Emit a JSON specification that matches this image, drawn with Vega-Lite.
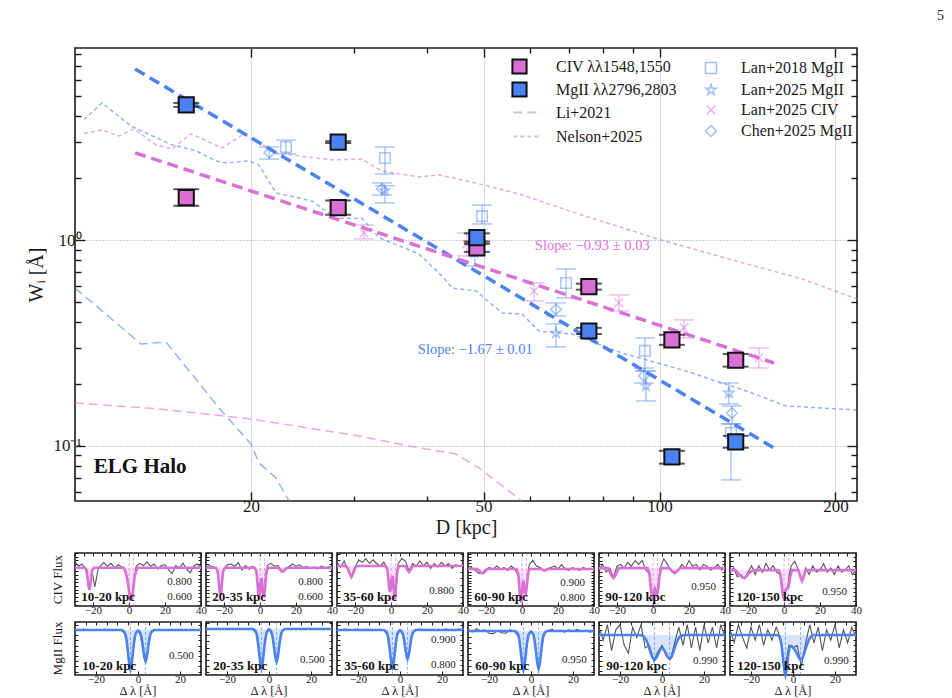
{
"$schema":"https://vega.github.io/schema/vega-lite/v6.json",
"background":"white",
"padding":{"left":26,"top":8,"right":5,"bottom":0},
"title":{"text":"5","anchor":"end","frame":"group","fontSize":14,"fontWeight":"normal","font":"Liberation Serif","color":"#222222","offset":22,"dx":869},
"config":{
 "font":"Liberation Serif",
 "view":{"stroke":"#1a1a1a","strokeWidth":1.6},
 "axis":{"domain":false,"grid":false,"labelFont":"Liberation Serif","titleFont":"Liberation Serif","labelColor":"#1a1a1a","titleColor":"#1a1a1a","tickColor":"#1a1a1a","titleFontWeight":"normal","labelOverlap":false,"labelBound":false,"labelFlush":false},
 "legend":{"labelFont":"Liberation Serif","labelFontSize":16,"labelColor":"#1a1a1a","padding":0,"rowPadding":5.6},
 "header":{"labelFont":"Liberation Serif","labelColor":"#1a1a1a","labelLimit":0}
},
"datasets":{
 "main":[
  {"ion":"CIV","lab":"CIV λλ1548,1550","D":15.5,"W":1.61,"lo":1.47,"hi":1.77},
  {"ion":"CIV","lab":"CIV λλ1548,1550","D":28.2,"W":1.44,"lo":1.33,"hi":1.56},
  {"ion":"CIV","lab":"CIV λλ1548,1550","D":48.7,"W":0.918,"lo":0.878,"hi":0.96},
  {"ion":"CIV","lab":"CIV λλ1548,1550","D":75.7,"W":0.595,"lo":0.575,"hi":0.615},
  {"ion":"CIV","lab":"CIV λλ1548,1550","D":105,"W":0.328,"lo":0.31,"hi":0.347},
  {"ion":"CIV","lab":"CIV λλ1548,1550","D":135,"W":0.261,"lo":0.243,"hi":0.28},
  {"ion":"MgII","lab":"MgII λλ2796,2803","D":15.5,"W":4.55,"lo":4.45,"hi":4.65},
  {"ion":"MgII","lab":"MgII λλ2796,2803","D":28.2,"W":3.0,"lo":2.97,"hi":3.03},
  {"ion":"MgII","lab":"MgII λλ2796,2803","D":48.7,"W":1.03,"lo":0.985,"hi":1.08},
  {"ion":"MgII","lab":"MgII λλ2796,2803","D":75.7,"W":0.362,"lo":0.35,"hi":0.375},
  {"ion":"MgII","lab":"MgII λλ2796,2803","D":105,"W":0.0885,"lo":0.082,"hi":0.0947},
  {"ion":"MgII","lab":"MgII λλ2796,2803","D":135,"W":0.1046,"lo":0.098,"hi":0.112}
 ],
 "lit":[
  {"src":"Lan+2018 MgII","D":22.96,"W":2.84,"lo":2.63,"hi":3.07},
  {"src":"Lan+2018 MgII","D":33.9,"W":2.51,"lo":2.1,"hi":2.84},
  {"src":"Lan+2018 MgII","D":49.7,"W":1.31,"lo":1.2,"hi":1.48},
  {"src":"Lan+2018 MgII","D":69.2,"W":0.62,"lo":0.524,"hi":0.725},
  {"src":"Lan+2018 MgII","D":94.4,"W":0.29,"lo":0.2315,"hi":0.335},
  {"src":"Lan+2018 MgII","D":132.5,"W":0.1157,"lo":0.0684,"hi":0.128},
  {"src":"Lan+2025 MgII","D":33.9,"W":1.74,"lo":1.52,"hi":1.84},
  {"src":"Lan+2025 MgII","D":48.3,"W":0.868,"lo":0.75,"hi":0.99},
  {"src":"Lan+2025 MgII","D":66.5,"W":0.354,"lo":0.303,"hi":0.392},
  {"src":"Lan+2025 MgII","D":94.8,"W":0.1957,"lo":0.1655,"hi":0.2315},
  {"src":"Lan+2025 MgII","D":131.4,"W":0.181,"lo":0.16,"hi":0.2024},
  {"src":"Lan+2025 CIV","D":31.2,"W":1.085,"lo":1.015,"hi":1.187},
  {"src":"Lan+2025 CIV","D":46.8,"W":0.959,"lo":0.839,"hi":1.085},
  {"src":"Lan+2025 CIV","D":61.0,"W":0.567,"lo":0.507,"hi":0.62},
  {"src":"Lan+2025 CIV","D":85.2,"W":0.496,"lo":0.453,"hi":0.542},
  {"src":"Lan+2025 CIV","D":110.1,"W":0.375,"lo":0.335,"hi":0.41},
  {"src":"Lan+2025 CIV","D":147.9,"W":0.268,"lo":0.2394,"hi":0.2995},
  {"src":"Chen+2025 MgII","D":21.5,"W":2.66,"lo":2.48,"hi":2.84},
  {"src":"Chen+2025 MgII","D":33.5,"W":1.776,"lo":1.66,"hi":1.9},
  {"src":"Chen+2025 MgII","D":66.5,"W":0.461,"lo":0.4285,"hi":0.496},
  {"src":"Chen+2025 MgII","D":94.0,"W":0.219,"lo":0.2024,"hi":0.239},
  {"src":"Chen+2025 MgII","D":133.0,"W":0.1446,"lo":0.128,"hi":0.1564}
 ],
 "models":[
  {"model":"Nelson+2025","ion":"CIV","D":10.36,"W":3.3},{"model":"Nelson+2025","ion":"CIV","D":11.12,"W":3.44},{"model":"Nelson+2025","ion":"CIV","D":11.89,"W":3.21},{"model":"Nelson+2025","ion":"CIV","D":12.62,"W":3.48},{"model":"Nelson+2025","ion":"CIV","D":13.75,"W":2.91},{"model":"Nelson+2025","ion":"CIV","D":14.65,"W":2.78},{"model":"Nelson+2025","ion":"CIV","D":15.79,"W":3.29},{"model":"Nelson+2025","ion":"CIV","D":17.84,"W":2.81},{"model":"Nelson+2025","ion":"CIV","D":19.46,"W":3.29},{"model":"Nelson+2025","ion":"CIV","D":22.07,"W":2.66},{"model":"Nelson+2025","ion":"CIV","D":24.84,"W":2.54},{"model":"Nelson+2025","ion":"CIV","D":27.52,"W":2.46},{"model":"Nelson+2025","ion":"CIV","D":30.97,"W":2.48},{"model":"Nelson+2025","ion":"CIV","D":33.5,"W":2.17},{"model":"Nelson+2025","ion":"CIV","D":38.76,"W":2.03},{"model":"Nelson+2025","ion":"CIV","D":41.94,"W":2.08},{"model":"Nelson+2025","ion":"CIV","D":49.1,"W":1.88},{"model":"Nelson+2025","ion":"CIV","D":57.47,"W":1.68},{"model":"Nelson+2025","ion":"CIV","D":72.79,"W":1.34},{"model":"Nelson+2025","ion":"CIV","D":99.8,"W":1.01},{"model":"Nelson+2025","ion":"CIV","D":135.1,"W":0.793},{"model":"Nelson+2025","ion":"CIV","D":175.2,"W":0.649},{"model":"Nelson+2025","ion":"CIV","D":217.7,"W":0.518},
  {"model":"Nelson+2025","ion":"MgII","D":10.36,"W":3.85},{"model":"Nelson+2025","ion":"MgII","D":11.12,"W":4.65},{"model":"Nelson+2025","ion":"MgII","D":12.47,"W":3.59},{"model":"Nelson+2025","ion":"MgII","D":13.23,"W":3.32},{"model":"Nelson+2025","ion":"MgII","D":14.65,"W":2.91},{"model":"Nelson+2025","ion":"MgII","D":16.11,"W":2.72},{"model":"Nelson+2025","ion":"MgII","D":17.42,"W":2.43},{"model":"Nelson+2025","ion":"MgII","D":18.13,"W":2.38},{"model":"Nelson+2025","ion":"MgII","D":19.85,"W":2.43},{"model":"Nelson+2025","ion":"MgII","D":20.64,"W":2.32},{"model":"Nelson+2025","ion":"MgII","D":22.07,"W":1.7},{"model":"Nelson+2025","ion":"MgII","D":25.44,"W":1.55},{"model":"Nelson+2025","ion":"MgII","D":27.96,"W":1.28},{"model":"Nelson+2025","ion":"MgII","D":30.97,"W":1.28},{"model":"Nelson+2025","ion":"MgII","D":33.11,"W":1.03},{"model":"Nelson+2025","ion":"MgII","D":38.76,"W":0.858},{"model":"Nelson+2025","ion":"MgII","D":42.44,"W":0.671},{"model":"Nelson+2025","ion":"MgII","D":44.14,"W":0.586},{"model":"Nelson+2025","ion":"MgII","D":48.52,"W":0.567},{"model":"Nelson+2025","ion":"MgII","D":53.76,"W":0.443},{"model":"Nelson+2025","ion":"MgII","D":58.16,"W":0.438},{"model":"Nelson+2025","ion":"MgII","D":62.2,"W":0.362},{"model":"Nelson+2025","ion":"MgII","D":70.83,"W":0.35},{"model":"Nelson+2025","ion":"MgII","D":86.23,"W":0.283},{"model":"Nelson+2025","ion":"MgII","D":110.98,"W":0.2315},{"model":"Nelson+2025","ion":"MgII","D":143.9,"W":0.181},{"model":"Nelson+2025","ion":"MgII","D":164.5,"W":0.1564},{"model":"Nelson+2025","ion":"MgII","D":217.7,"W":0.1496},
  {"model":"Li+2021","ion":"MgII","D":10.0,"W":0.586},{"model":"Li+2021","ion":"MgII","D":12.97,"W":0.313},{"model":"Li+2021","ion":"MgII","D":14.31,"W":0.32},{"model":"Li+2021","ion":"MgII","D":17.63,"W":0.153},{"model":"Li+2021","ion":"MgII","D":20.0,"W":0.1022},{"model":"Li+2021","ion":"MgII","D":20.64,"W":0.0827},{"model":"Li+2021","ion":"MgII","D":22.07,"W":0.0699},{"model":"Li+2021","ion":"MgII","D":23.23,"W":0.054},{"model":"Li+2021","ion":"MgII","D":24.16,"W":0.0457},
  {"model":"Li+2021","ion":"CIV","D":10.0,"W":0.1618},{"model":"Li+2021","ion":"CIV","D":13.92,"W":0.1513},{"model":"Li+2021","ion":"CIV","D":20.0,"W":0.1353},{"model":"Li+2021","ion":"CIV","D":30.61,"W":0.1118},{"model":"Li+2021","ion":"CIV","D":37.26,"W":0.1},{"model":"Li+2021","ion":"CIV","D":44.84,"W":0.0914},{"model":"Li+2021","ion":"CIV","D":49.1,"W":0.0782},{"model":"Li+2021","ion":"CIV","D":58.16,"W":0.054},{"model":"Li+2021","ion":"CIV","D":62.2,"W":0.0467}
 ],
 "fits":[
  {"ion":"MgII","D":12.67,"W":6.8},{"ion":"MgII","D":157,"W":0.0978},
  {"ion":"CIV","D":12.67,"W":2.66},{"ion":"CIV","D":157,"W":0.253}
 ],
 "notes":[
  {"kind":"slope","ion":"CIV","D":61.2,"W":0.938,"t":"Slope: −0.93 ± 0.03"},
  {"kind":"slope","ion":"MgII","D":38.6,"W":0.293,"t":"Slope: −1.67 ± 0.01"},
  {"kind":"label","ion":"none","D":10.77,"W":0.0792,"t":"ELG Halo"}
 ],
 "spec":[
  {"ion":"CIV","bin":"10-20 kpc","k":"dom","x":-30,"y":0.48,"y2":1.2},
  {"ion":"CIV","bin":"10-20 kpc","k":"ctr","x":0,"y":0.48,"y2":1.2},
  {"ion":"CIV","bin":"10-20 kpc","k":"ctr","x":2.57,"y":0.48,"y2":1.2},
  {"ion":"CIV","bin":"10-20 kpc","k":"lab","x":-26.5,"y":0.602,"t":"10-20 kpc"},
  {"ion":"CIV","bin":"10-20 kpc","k":"tl","x":35,"y":0.8,"t":"0.800"},
  {"ion":"CIV","bin":"10-20 kpc","k":"tl","x":35,"y":0.6,"t":"0.600"},
  {"ion":"CIV","bin":"10-20 kpc","k":"m","x":-30,"y":1,"c":1},{"ion":"CIV","bin":"10-20 kpc","k":"m","x":-24.5,"y":1,"c":1},{"ion":"CIV","bin":"10-20 kpc","k":"m","x":-23.5,"y":0.96,"c":1},{"ion":"CIV","bin":"10-20 kpc","k":"m","x":-23,"y":0.86,"c":1},{"ion":"CIV","bin":"10-20 kpc","k":"m","x":-22.5,"y":0.75,"c":1},{"ion":"CIV","bin":"10-20 kpc","k":"m","x":-22,"y":0.7,"c":1},{"ion":"CIV","bin":"10-20 kpc","k":"m","x":-21.5,"y":0.75,"c":1},{"ion":"CIV","bin":"10-20 kpc","k":"m","x":-21,"y":0.86,"c":1},{"ion":"CIV","bin":"10-20 kpc","k":"m","x":-20.5,"y":0.96,"c":1},{"ion":"CIV","bin":"10-20 kpc","k":"m","x":-19.5,"y":1,"c":1},{"ion":"CIV","bin":"10-20 kpc","k":"m","x":-3,"y":1,"c":1},{"ion":"CIV","bin":"10-20 kpc","k":"m","x":-2,"y":0.95,"c":1},{"ion":"CIV","bin":"10-20 kpc","k":"m","x":-1,"y":0.85,"c":1},{"ion":"CIV","bin":"10-20 kpc","k":"m","x":0,"y":0.68,"c":1},{"ion":"CIV","bin":"10-20 kpc","k":"m","x":0.5,"y":0.6,"c":1},{"ion":"CIV","bin":"10-20 kpc","k":"m","x":1,"y":0.57,"c":1},{"ion":"CIV","bin":"10-20 kpc","k":"m","x":1.5,"y":0.58,"c":1},{"ion":"CIV","bin":"10-20 kpc","k":"m","x":2,"y":0.64,"c":1},{"ion":"CIV","bin":"10-20 kpc","k":"m","x":2.5,"y":0.74,"c":1},{"ion":"CIV","bin":"10-20 kpc","k":"m","x":3,"y":0.86,"c":1},{"ion":"CIV","bin":"10-20 kpc","k":"m","x":4,"y":0.96,"c":1},{"ion":"CIV","bin":"10-20 kpc","k":"m","x":5,"y":1,"c":1},{"ion":"CIV","bin":"10-20 kpc","k":"m","x":40,"y":1,"c":1},
  {"ion":"CIV","bin":"10-20 kpc","k":"d","x":-30,"y":1.08},{"ion":"CIV","bin":"10-20 kpc","k":"d","x":-28,"y":1.02},{"ion":"CIV","bin":"10-20 kpc","k":"d","x":-26,"y":1.05},{"ion":"CIV","bin":"10-20 kpc","k":"d","x":-24,"y":0.97},{"ion":"CIV","bin":"10-20 kpc","k":"d","x":-22,"y":0.72},{"ion":"CIV","bin":"10-20 kpc","k":"d","x":-20.5,"y":0.95},{"ion":"CIV","bin":"10-20 kpc","k":"d","x":-19,"y":0.74},{"ion":"CIV","bin":"10-20 kpc","k":"d","x":-17,"y":1.0},{"ion":"CIV","bin":"10-20 kpc","k":"d","x":-14,"y":1.07},{"ion":"CIV","bin":"10-20 kpc","k":"d","x":-12,"y":1.02},{"ion":"CIV","bin":"10-20 kpc","k":"d","x":-10,"y":1.06},{"ion":"CIV","bin":"10-20 kpc","k":"d","x":-8,"y":1.0},{"ion":"CIV","bin":"10-20 kpc","k":"d","x":-6,"y":1.04},{"ion":"CIV","bin":"10-20 kpc","k":"d","x":-4,"y":1.01},{"ion":"CIV","bin":"10-20 kpc","k":"d","x":-2,"y":0.97},{"ion":"CIV","bin":"10-20 kpc","k":"d","x":0,"y":0.7},{"ion":"CIV","bin":"10-20 kpc","k":"d","x":1,"y":0.58},{"ion":"CIV","bin":"10-20 kpc","k":"d","x":2,"y":0.66},{"ion":"CIV","bin":"10-20 kpc","k":"d","x":4,"y":1.02},{"ion":"CIV","bin":"10-20 kpc","k":"d","x":6,"y":1.06},{"ion":"CIV","bin":"10-20 kpc","k":"d","x":8,"y":1.03},{"ion":"CIV","bin":"10-20 kpc","k":"d","x":10,"y":1.08},{"ion":"CIV","bin":"10-20 kpc","k":"d","x":12,"y":1.02},{"ion":"CIV","bin":"10-20 kpc","k":"d","x":14,"y":1.05},{"ion":"CIV","bin":"10-20 kpc","k":"d","x":16,"y":0.98},{"ion":"CIV","bin":"10-20 kpc","k":"d","x":18,"y":1.03},{"ion":"CIV","bin":"10-20 kpc","k":"d","x":20,"y":1.04},{"ion":"CIV","bin":"10-20 kpc","k":"d","x":22,"y":0.97},{"ion":"CIV","bin":"10-20 kpc","k":"d","x":24,"y":0.92},{"ion":"CIV","bin":"10-20 kpc","k":"d","x":26,"y":1.03},{"ion":"CIV","bin":"10-20 kpc","k":"d","x":28,"y":1.0},{"ion":"CIV","bin":"10-20 kpc","k":"d","x":30,"y":1.06},{"ion":"CIV","bin":"10-20 kpc","k":"d","x":32,"y":0.98},{"ion":"CIV","bin":"10-20 kpc","k":"d","x":34,"y":0.93},{"ion":"CIV","bin":"10-20 kpc","k":"d","x":36,"y":1.02},{"ion":"CIV","bin":"10-20 kpc","k":"d","x":38,"y":1.05},{"ion":"CIV","bin":"10-20 kpc","k":"d","x":40,"y":1.0},

  {"ion":"CIV","bin":"20-35 kpc","k":"dom","x":-30,"y":0.48,"y2":1.2},
  {"ion":"CIV","bin":"20-35 kpc","k":"ctr","x":0,"y":0.48,"y2":1.2},
  {"ion":"CIV","bin":"20-35 kpc","k":"ctr","x":2.57,"y":0.48,"y2":1.2},
  {"ion":"CIV","bin":"20-35 kpc","k":"lab","x":-26.5,"y":0.602,"t":"20-35 kpc"},
  {"ion":"CIV","bin":"20-35 kpc","k":"tl","x":35,"y":0.8,"t":"0.800"},
  {"ion":"CIV","bin":"20-35 kpc","k":"tl","x":35,"y":0.6,"t":"0.600"},
  {"ion":"CIV","bin":"20-35 kpc","k":"m","x":-30,"y":1,"c":1},{"ion":"CIV","bin":"20-35 kpc","k":"m","x":-24.5,"y":1,"c":1},{"ion":"CIV","bin":"20-35 kpc","k":"m","x":-23.5,"y":0.95,"c":1},{"ion":"CIV","bin":"20-35 kpc","k":"m","x":-23,"y":0.83,"c":1},{"ion":"CIV","bin":"20-35 kpc","k":"m","x":-22.5,"y":0.69,"c":1},{"ion":"CIV","bin":"20-35 kpc","k":"m","x":-22,"y":0.63,"c":1},{"ion":"CIV","bin":"20-35 kpc","k":"m","x":-21.5,"y":0.69,"c":1},{"ion":"CIV","bin":"20-35 kpc","k":"m","x":-21,"y":0.83,"c":1},{"ion":"CIV","bin":"20-35 kpc","k":"m","x":-20.5,"y":0.95,"c":1},{"ion":"CIV","bin":"20-35 kpc","k":"m","x":-19.5,"y":1,"c":1},{"ion":"CIV","bin":"20-35 kpc","k":"m","x":-3,"y":1,"c":1},{"ion":"CIV","bin":"20-35 kpc","k":"m","x":-2,"y":0.95,"c":1},{"ion":"CIV","bin":"20-35 kpc","k":"m","x":-1.5,"y":0.82,"c":1},{"ion":"CIV","bin":"20-35 kpc","k":"m","x":-1,"y":0.66,"c":1},{"ion":"CIV","bin":"20-35 kpc","k":"m","x":-0.5,"y":0.6,"c":1},{"ion":"CIV","bin":"20-35 kpc","k":"m","x":0,"y":0.66,"c":1},{"ion":"CIV","bin":"20-35 kpc","k":"m","x":0.5,"y":0.82,"c":1},{"ion":"CIV","bin":"20-35 kpc","k":"m","x":0.8,"y":0.86,"c":1},{"ion":"CIV","bin":"20-35 kpc","k":"m","x":1.1,"y":0.82,"c":1},{"ion":"CIV","bin":"20-35 kpc","k":"m","x":1.6,"y":0.66,"c":1},{"ion":"CIV","bin":"20-35 kpc","k":"m","x":2.1,"y":0.6,"c":1},{"ion":"CIV","bin":"20-35 kpc","k":"m","x":2.6,"y":0.66,"c":1},{"ion":"CIV","bin":"20-35 kpc","k":"m","x":3.1,"y":0.82,"c":1},{"ion":"CIV","bin":"20-35 kpc","k":"m","x":3.6,"y":0.95,"c":1},{"ion":"CIV","bin":"20-35 kpc","k":"m","x":4.5,"y":1,"c":1},{"ion":"CIV","bin":"20-35 kpc","k":"m","x":10,"y":1,"c":1},{"ion":"CIV","bin":"20-35 kpc","k":"m","x":11,"y":0.98,"c":1},{"ion":"CIV","bin":"20-35 kpc","k":"m","x":12,"y":0.95,"c":1},{"ion":"CIV","bin":"20-35 kpc","k":"m","x":13,"y":0.95,"c":1},{"ion":"CIV","bin":"20-35 kpc","k":"m","x":14,"y":0.98,"c":1},{"ion":"CIV","bin":"20-35 kpc","k":"m","x":15,"y":1,"c":1},{"ion":"CIV","bin":"20-35 kpc","k":"m","x":40,"y":1,"c":1},
  {"ion":"CIV","bin":"20-35 kpc","k":"d","x":-30,"y":1.0},{"ion":"CIV","bin":"20-35 kpc","k":"d","x":-28,"y":1.03},{"ion":"CIV","bin":"20-35 kpc","k":"d","x":-26,"y":1.01},{"ion":"CIV","bin":"20-35 kpc","k":"d","x":-24,"y":0.98},{"ion":"CIV","bin":"20-35 kpc","k":"d","x":-22,"y":0.66},{"ion":"CIV","bin":"20-35 kpc","k":"d","x":-20,"y":0.99},{"ion":"CIV","bin":"20-35 kpc","k":"d","x":-18,"y":1.04},{"ion":"CIV","bin":"20-35 kpc","k":"d","x":-16,"y":1.05},{"ion":"CIV","bin":"20-35 kpc","k":"d","x":-14,"y":1.02},{"ion":"CIV","bin":"20-35 kpc","k":"d","x":-12,"y":1.07},{"ion":"CIV","bin":"20-35 kpc","k":"d","x":-10,"y":0.97},{"ion":"CIV","bin":"20-35 kpc","k":"d","x":-8,"y":1.03},{"ion":"CIV","bin":"20-35 kpc","k":"d","x":-6,"y":0.98},{"ion":"CIV","bin":"20-35 kpc","k":"d","x":-4,"y":1.02},{"ion":"CIV","bin":"20-35 kpc","k":"d","x":-2,"y":0.95},{"ion":"CIV","bin":"20-35 kpc","k":"d","x":-1,"y":0.64},{"ion":"CIV","bin":"20-35 kpc","k":"d","x":0.5,"y":0.85},{"ion":"CIV","bin":"20-35 kpc","k":"d","x":2,"y":0.62},{"ion":"CIV","bin":"20-35 kpc","k":"d","x":3,"y":0.85},{"ion":"CIV","bin":"20-35 kpc","k":"d","x":4,"y":1.03},{"ion":"CIV","bin":"20-35 kpc","k":"d","x":6,"y":1.06},{"ion":"CIV","bin":"20-35 kpc","k":"d","x":8,"y":1.02},{"ion":"CIV","bin":"20-35 kpc","k":"d","x":10,"y":1.03},{"ion":"CIV","bin":"20-35 kpc","k":"d","x":12,"y":0.96},{"ion":"CIV","bin":"20-35 kpc","k":"d","x":14,"y":0.97},{"ion":"CIV","bin":"20-35 kpc","k":"d","x":16,"y":1.01},{"ion":"CIV","bin":"20-35 kpc","k":"d","x":18,"y":1.05},{"ion":"CIV","bin":"20-35 kpc","k":"d","x":20,"y":1.02},{"ion":"CIV","bin":"20-35 kpc","k":"d","x":22,"y":1.04},{"ion":"CIV","bin":"20-35 kpc","k":"d","x":24,"y":1.0},{"ion":"CIV","bin":"20-35 kpc","k":"d","x":26,"y":1.02},{"ion":"CIV","bin":"20-35 kpc","k":"d","x":28,"y":0.99},{"ion":"CIV","bin":"20-35 kpc","k":"d","x":30,"y":1.01},{"ion":"CIV","bin":"20-35 kpc","k":"d","x":32,"y":0.98},{"ion":"CIV","bin":"20-35 kpc","k":"d","x":34,"y":1.02},{"ion":"CIV","bin":"20-35 kpc","k":"d","x":36,"y":1.0},{"ion":"CIV","bin":"20-35 kpc","k":"d","x":38,"y":1.01},{"ion":"CIV","bin":"20-35 kpc","k":"d","x":40,"y":1.02},

  {"ion":"CIV","bin":"35-60 kpc","k":"dom","x":-30,"y":0.676,"y2":1.105},
  {"ion":"CIV","bin":"35-60 kpc","k":"ctr","x":0,"y":0.676,"y2":1.105},
  {"ion":"CIV","bin":"35-60 kpc","k":"ctr","x":2.57,"y":0.676,"y2":1.105},
  {"ion":"CIV","bin":"35-60 kpc","k":"lab","x":-26.5,"y":0.749,"t":"35-60 kpc"},
  {"ion":"CIV","bin":"35-60 kpc","k":"tl","x":35,"y":0.8,"t":"0.800"},
  {"ion":"CIV","bin":"35-60 kpc","k":"m","x":-30,"y":1,"c":1},{"ion":"CIV","bin":"35-60 kpc","k":"m","x":-25,"y":1,"c":1},{"ion":"CIV","bin":"35-60 kpc","k":"m","x":-24,"y":0.98,"c":1},{"ion":"CIV","bin":"35-60 kpc","k":"m","x":-23,"y":0.94,"c":1},{"ion":"CIV","bin":"35-60 kpc","k":"m","x":-22,"y":0.91,"c":1},{"ion":"CIV","bin":"35-60 kpc","k":"m","x":-21,"y":0.94,"c":1},{"ion":"CIV","bin":"35-60 kpc","k":"m","x":-20,"y":0.98,"c":1},{"ion":"CIV","bin":"35-60 kpc","k":"m","x":-19,"y":1,"c":1},{"ion":"CIV","bin":"35-60 kpc","k":"m","x":-3,"y":1,"c":1},{"ion":"CIV","bin":"35-60 kpc","k":"m","x":-2,"y":0.97,"c":1},{"ion":"CIV","bin":"35-60 kpc","k":"m","x":-1.5,"y":0.9,"c":1},{"ion":"CIV","bin":"35-60 kpc","k":"m","x":-1,"y":0.82,"c":1},{"ion":"CIV","bin":"35-60 kpc","k":"m","x":-0.5,"y":0.79,"c":1},{"ion":"CIV","bin":"35-60 kpc","k":"m","x":0,"y":0.83,"c":1},{"ion":"CIV","bin":"35-60 kpc","k":"m","x":0.5,"y":0.9,"c":1},{"ion":"CIV","bin":"35-60 kpc","k":"m","x":0.8,"y":0.92,"c":1},{"ion":"CIV","bin":"35-60 kpc","k":"m","x":1.2,"y":0.87,"c":1},{"ion":"CIV","bin":"35-60 kpc","k":"m","x":1.7,"y":0.77,"c":1},{"ion":"CIV","bin":"35-60 kpc","k":"m","x":2.1,"y":0.73,"c":1},{"ion":"CIV","bin":"35-60 kpc","k":"m","x":2.5,"y":0.77,"c":1},{"ion":"CIV","bin":"35-60 kpc","k":"m","x":3,"y":0.87,"c":1},{"ion":"CIV","bin":"35-60 kpc","k":"m","x":3.5,"y":0.96,"c":1},{"ion":"CIV","bin":"35-60 kpc","k":"m","x":4.5,"y":1,"c":1},{"ion":"CIV","bin":"35-60 kpc","k":"m","x":8,"y":1,"c":1},{"ion":"CIV","bin":"35-60 kpc","k":"m","x":9,"y":0.97,"c":1},{"ion":"CIV","bin":"35-60 kpc","k":"m","x":10,"y":0.95,"c":1},{"ion":"CIV","bin":"35-60 kpc","k":"m","x":11,"y":0.97,"c":1},{"ion":"CIV","bin":"35-60 kpc","k":"m","x":12,"y":1,"c":1},{"ion":"CIV","bin":"35-60 kpc","k":"m","x":40,"y":1,"c":1},
  {"ion":"CIV","bin":"35-60 kpc","k":"d","x":-30,"y":1.03},{"ion":"CIV","bin":"35-60 kpc","k":"d","x":-28,"y":0.99},{"ion":"CIV","bin":"35-60 kpc","k":"d","x":-26,"y":1.04},{"ion":"CIV","bin":"35-60 kpc","k":"d","x":-24,"y":0.97},{"ion":"CIV","bin":"35-60 kpc","k":"d","x":-22,"y":0.92},{"ion":"CIV","bin":"35-60 kpc","k":"d","x":-20,"y":0.99},{"ion":"CIV","bin":"35-60 kpc","k":"d","x":-18,"y":1.05},{"ion":"CIV","bin":"35-60 kpc","k":"d","x":-16,"y":1.03},{"ion":"CIV","bin":"35-60 kpc","k":"d","x":-14,"y":1.06},{"ion":"CIV","bin":"35-60 kpc","k":"d","x":-12,"y":1.02},{"ion":"CIV","bin":"35-60 kpc","k":"d","x":-10,"y":1.05},{"ion":"CIV","bin":"35-60 kpc","k":"d","x":-8,"y":1.02},{"ion":"CIV","bin":"35-60 kpc","k":"d","x":-6,"y":1.0},{"ion":"CIV","bin":"35-60 kpc","k":"d","x":-4,"y":1.03},{"ion":"CIV","bin":"35-60 kpc","k":"d","x":-2,"y":0.98},{"ion":"CIV","bin":"35-60 kpc","k":"d","x":-1,"y":0.82},{"ion":"CIV","bin":"35-60 kpc","k":"d","x":0.5,"y":0.9},{"ion":"CIV","bin":"35-60 kpc","k":"d","x":2,"y":0.76},{"ion":"CIV","bin":"35-60 kpc","k":"d","x":3,"y":0.9},{"ion":"CIV","bin":"35-60 kpc","k":"d","x":4,"y":1.02},{"ion":"CIV","bin":"35-60 kpc","k":"d","x":6,"y":1.06},{"ion":"CIV","bin":"35-60 kpc","k":"d","x":8,"y":1.04},{"ion":"CIV","bin":"35-60 kpc","k":"d","x":10,"y":0.96},{"ion":"CIV","bin":"35-60 kpc","k":"d","x":12,"y":1.02},{"ion":"CIV","bin":"35-60 kpc","k":"d","x":14,"y":1.0},{"ion":"CIV","bin":"35-60 kpc","k":"d","x":16,"y":1.04},{"ion":"CIV","bin":"35-60 kpc","k":"d","x":18,"y":1.0},{"ion":"CIV","bin":"35-60 kpc","k":"d","x":20,"y":1.03},{"ion":"CIV","bin":"35-60 kpc","k":"d","x":22,"y":0.98},{"ion":"CIV","bin":"35-60 kpc","k":"d","x":24,"y":1.02},{"ion":"CIV","bin":"35-60 kpc","k":"d","x":26,"y":0.99},{"ion":"CIV","bin":"35-60 kpc","k":"d","x":28,"y":1.03},{"ion":"CIV","bin":"35-60 kpc","k":"d","x":30,"y":1.0},{"ion":"CIV","bin":"35-60 kpc","k":"d","x":32,"y":1.02},{"ion":"CIV","bin":"35-60 kpc","k":"d","x":34,"y":0.98},{"ion":"CIV","bin":"35-60 kpc","k":"d","x":36,"y":1.01},{"ion":"CIV","bin":"35-60 kpc","k":"d","x":38,"y":1.0},{"ion":"CIV","bin":"35-60 kpc","k":"d","x":40,"y":1.01},

  {"ion":"CIV","bin":"60-90 kpc","k":"dom","x":-30,"y":0.745,"y2":1.11},
  {"ion":"CIV","bin":"60-90 kpc","k":"ctr","x":0,"y":0.745,"y2":1.11},
  {"ion":"CIV","bin":"60-90 kpc","k":"ctr","x":2.57,"y":0.745,"y2":1.11},
  {"ion":"CIV","bin":"60-90 kpc","k":"lab","x":-26.5,"y":0.807,"t":"60-90 kpc"},
  {"ion":"CIV","bin":"60-90 kpc","k":"tl","x":35,"y":0.9,"t":"0.900"},
  {"ion":"CIV","bin":"60-90 kpc","k":"tl","x":35,"y":0.8,"t":"0.800"},
  {"ion":"CIV","bin":"60-90 kpc","k":"m","x":-30,"y":1,"c":1},{"ion":"CIV","bin":"60-90 kpc","k":"m","x":-25,"y":1,"c":1},{"ion":"CIV","bin":"60-90 kpc","k":"m","x":-24,"y":0.99,"c":1},{"ion":"CIV","bin":"60-90 kpc","k":"m","x":-23,"y":0.975,"c":1},{"ion":"CIV","bin":"60-90 kpc","k":"m","x":-22,"y":0.97,"c":1},{"ion":"CIV","bin":"60-90 kpc","k":"m","x":-21,"y":0.975,"c":1},{"ion":"CIV","bin":"60-90 kpc","k":"m","x":-20,"y":0.99,"c":1},{"ion":"CIV","bin":"60-90 kpc","k":"m","x":-19,"y":1,"c":1},{"ion":"CIV","bin":"60-90 kpc","k":"m","x":-3,"y":1,"c":1},{"ion":"CIV","bin":"60-90 kpc","k":"m","x":-2,"y":0.96,"c":1},{"ion":"CIV","bin":"60-90 kpc","k":"m","x":-1.5,"y":0.88,"c":1},{"ion":"CIV","bin":"60-90 kpc","k":"m","x":-1,"y":0.8,"c":1},{"ion":"CIV","bin":"60-90 kpc","k":"m","x":-0.5,"y":0.77,"c":1},{"ion":"CIV","bin":"60-90 kpc","k":"m","x":0,"y":0.81,"c":1},{"ion":"CIV","bin":"60-90 kpc","k":"m","x":0.5,"y":0.9,"c":1},{"ion":"CIV","bin":"60-90 kpc","k":"m","x":0.8,"y":0.92,"c":1},{"ion":"CIV","bin":"60-90 kpc","k":"m","x":1.2,"y":0.88,"c":1},{"ion":"CIV","bin":"60-90 kpc","k":"m","x":1.7,"y":0.84,"c":1},{"ion":"CIV","bin":"60-90 kpc","k":"m","x":2.1,"y":0.83,"c":1},{"ion":"CIV","bin":"60-90 kpc","k":"m","x":2.5,"y":0.86,"c":1},{"ion":"CIV","bin":"60-90 kpc","k":"m","x":3,"y":0.92,"c":1},{"ion":"CIV","bin":"60-90 kpc","k":"m","x":3.5,"y":0.98,"c":1},{"ion":"CIV","bin":"60-90 kpc","k":"m","x":4.5,"y":1,"c":1},{"ion":"CIV","bin":"60-90 kpc","k":"m","x":11,"y":1,"c":1},{"ion":"CIV","bin":"60-90 kpc","k":"m","x":12,"y":0.99,"c":1},{"ion":"CIV","bin":"60-90 kpc","k":"m","x":13,"y":0.99,"c":1},{"ion":"CIV","bin":"60-90 kpc","k":"m","x":14,"y":1,"c":1},{"ion":"CIV","bin":"60-90 kpc","k":"m","x":40,"y":1,"c":1},
  {"ion":"CIV","bin":"60-90 kpc","k":"d","x":-30,"y":1.02},{"ion":"CIV","bin":"60-90 kpc","k":"d","x":-28,"y":1.01},{"ion":"CIV","bin":"60-90 kpc","k":"d","x":-26,"y":0.99},{"ion":"CIV","bin":"60-90 kpc","k":"d","x":-24,"y":0.97},{"ion":"CIV","bin":"60-90 kpc","k":"d","x":-22,"y":0.97},{"ion":"CIV","bin":"60-90 kpc","k":"d","x":-20,"y":1.0},{"ion":"CIV","bin":"60-90 kpc","k":"d","x":-18,"y":1.01},{"ion":"CIV","bin":"60-90 kpc","k":"d","x":-16,"y":1.0},{"ion":"CIV","bin":"60-90 kpc","k":"d","x":-14,"y":1.02},{"ion":"CIV","bin":"60-90 kpc","k":"d","x":-12,"y":1.0},{"ion":"CIV","bin":"60-90 kpc","k":"d","x":-10,"y":1.01},{"ion":"CIV","bin":"60-90 kpc","k":"d","x":-8,"y":0.99},{"ion":"CIV","bin":"60-90 kpc","k":"d","x":-6,"y":1.02},{"ion":"CIV","bin":"60-90 kpc","k":"d","x":-4,"y":1.0},{"ion":"CIV","bin":"60-90 kpc","k":"d","x":-2,"y":0.95},{"ion":"CIV","bin":"60-90 kpc","k":"d","x":-1,"y":0.79},{"ion":"CIV","bin":"60-90 kpc","k":"d","x":0.5,"y":0.9},{"ion":"CIV","bin":"60-90 kpc","k":"d","x":2,"y":0.83},{"ion":"CIV","bin":"60-90 kpc","k":"d","x":3,"y":0.93},{"ion":"CIV","bin":"60-90 kpc","k":"d","x":4,"y":1.03},{"ion":"CIV","bin":"60-90 kpc","k":"d","x":6,"y":1.06},{"ion":"CIV","bin":"60-90 kpc","k":"d","x":8,"y":1.02},{"ion":"CIV","bin":"60-90 kpc","k":"d","x":10,"y":1.01},{"ion":"CIV","bin":"60-90 kpc","k":"d","x":12,"y":0.99},{"ion":"CIV","bin":"60-90 kpc","k":"d","x":14,"y":1.0},{"ion":"CIV","bin":"60-90 kpc","k":"d","x":16,"y":1.01},{"ion":"CIV","bin":"60-90 kpc","k":"d","x":18,"y":1.02},{"ion":"CIV","bin":"60-90 kpc","k":"d","x":20,"y":1.0},{"ion":"CIV","bin":"60-90 kpc","k":"d","x":22,"y":1.03},{"ion":"CIV","bin":"60-90 kpc","k":"d","x":24,"y":1.0},{"ion":"CIV","bin":"60-90 kpc","k":"d","x":26,"y":0.99},{"ion":"CIV","bin":"60-90 kpc","k":"d","x":28,"y":1.01},{"ion":"CIV","bin":"60-90 kpc","k":"d","x":30,"y":1.0},{"ion":"CIV","bin":"60-90 kpc","k":"d","x":32,"y":0.99},{"ion":"CIV","bin":"60-90 kpc","k":"d","x":34,"y":1.01},{"ion":"CIV","bin":"60-90 kpc","k":"d","x":36,"y":1.0},{"ion":"CIV","bin":"60-90 kpc","k":"d","x":38,"y":1.0},{"ion":"CIV","bin":"60-90 kpc","k":"d","x":40,"y":1.0},

  {"ion":"CIV","bin":"90-120 kpc","k":"dom","x":-30,"y":0.9,"y2":1.04},
  {"ion":"CIV","bin":"90-120 kpc","k":"ctr","x":0,"y":0.9,"y2":1.04},
  {"ion":"CIV","bin":"90-120 kpc","k":"ctr","x":2.57,"y":0.9,"y2":1.04},
  {"ion":"CIV","bin":"90-120 kpc","k":"lab","x":-26.5,"y":0.924,"t":"90-120 kpc"},
  {"ion":"CIV","bin":"90-120 kpc","k":"tl","x":35,"y":0.95,"t":"0.950"},
  {"ion":"CIV","bin":"90-120 kpc","k":"m","x":-30,"y":1,"c":1},{"ion":"CIV","bin":"90-120 kpc","k":"m","x":-25,"y":1,"c":1},{"ion":"CIV","bin":"90-120 kpc","k":"m","x":-24,"y":0.99,"c":1},{"ion":"CIV","bin":"90-120 kpc","k":"m","x":-23,"y":0.98,"c":1},{"ion":"CIV","bin":"90-120 kpc","k":"m","x":-22,"y":0.974,"c":1},{"ion":"CIV","bin":"90-120 kpc","k":"m","x":-21,"y":0.98,"c":1},{"ion":"CIV","bin":"90-120 kpc","k":"m","x":-20,"y":0.99,"c":1},{"ion":"CIV","bin":"90-120 kpc","k":"m","x":-19,"y":1,"c":1},{"ion":"CIV","bin":"90-120 kpc","k":"m","x":-3,"y":1,"c":1},{"ion":"CIV","bin":"90-120 kpc","k":"m","x":-2,"y":0.985,"c":1},{"ion":"CIV","bin":"90-120 kpc","k":"m","x":-1.5,"y":0.96,"c":1},{"ion":"CIV","bin":"90-120 kpc","k":"m","x":-1,"y":0.94,"c":1},{"ion":"CIV","bin":"90-120 kpc","k":"m","x":-0.5,"y":0.925,"c":1},{"ion":"CIV","bin":"90-120 kpc","k":"m","x":0,"y":0.92,"c":1},{"ion":"CIV","bin":"90-120 kpc","k":"m","x":0.5,"y":0.93,"c":1},{"ion":"CIV","bin":"90-120 kpc","k":"m","x":1,"y":0.945,"c":1},{"ion":"CIV","bin":"90-120 kpc","k":"m","x":1.5,"y":0.94,"c":1},{"ion":"CIV","bin":"90-120 kpc","k":"m","x":2,"y":0.93,"c":1},{"ion":"CIV","bin":"90-120 kpc","k":"m","x":2.5,"y":0.935,"c":1},{"ion":"CIV","bin":"90-120 kpc","k":"m","x":3,"y":0.95,"c":1},{"ion":"CIV","bin":"90-120 kpc","k":"m","x":3.5,"y":0.975,"c":1},{"ion":"CIV","bin":"90-120 kpc","k":"m","x":4.5,"y":1,"c":1},{"ion":"CIV","bin":"90-120 kpc","k":"m","x":9,"y":1,"c":1},{"ion":"CIV","bin":"90-120 kpc","k":"m","x":11,"y":0.99,"c":1},{"ion":"CIV","bin":"90-120 kpc","k":"m","x":13,"y":0.99,"c":1},{"ion":"CIV","bin":"90-120 kpc","k":"m","x":15,"y":1,"c":1},{"ion":"CIV","bin":"90-120 kpc","k":"m","x":40,"y":1,"c":1},
  {"ion":"CIV","bin":"90-120 kpc","k":"d","x":-30,"y":0.995},{"ion":"CIV","bin":"90-120 kpc","k":"d","x":-28,"y":1.01},{"ion":"CIV","bin":"90-120 kpc","k":"d","x":-26,"y":0.99},{"ion":"CIV","bin":"90-120 kpc","k":"d","x":-24,"y":1.0},{"ion":"CIV","bin":"90-120 kpc","k":"d","x":-22,"y":0.975},{"ion":"CIV","bin":"90-120 kpc","k":"d","x":-20,"y":1.005},{"ion":"CIV","bin":"90-120 kpc","k":"d","x":-18,"y":1.01},{"ion":"CIV","bin":"90-120 kpc","k":"d","x":-16,"y":1.0},{"ion":"CIV","bin":"90-120 kpc","k":"d","x":-14,"y":1.015},{"ion":"CIV","bin":"90-120 kpc","k":"d","x":-12,"y":1.005},{"ion":"CIV","bin":"90-120 kpc","k":"d","x":-10,"y":1.02},{"ion":"CIV","bin":"90-120 kpc","k":"d","x":-8,"y":1.01},{"ion":"CIV","bin":"90-120 kpc","k":"d","x":-6,"y":1.02},{"ion":"CIV","bin":"90-120 kpc","k":"d","x":-4,"y":0.995},{"ion":"CIV","bin":"90-120 kpc","k":"d","x":-2,"y":0.985},{"ion":"CIV","bin":"90-120 kpc","k":"d","x":-1,"y":0.94},{"ion":"CIV","bin":"90-120 kpc","k":"d","x":0,"y":0.92},{"ion":"CIV","bin":"90-120 kpc","k":"d","x":1,"y":0.95},{"ion":"CIV","bin":"90-120 kpc","k":"d","x":2,"y":0.93},{"ion":"CIV","bin":"90-120 kpc","k":"d","x":3,"y":0.96},{"ion":"CIV","bin":"90-120 kpc","k":"d","x":4,"y":1.0},{"ion":"CIV","bin":"90-120 kpc","k":"d","x":6,"y":1.025},{"ion":"CIV","bin":"90-120 kpc","k":"d","x":8,"y":1.01},{"ion":"CIV","bin":"90-120 kpc","k":"d","x":10,"y":0.995},{"ion":"CIV","bin":"90-120 kpc","k":"d","x":12,"y":0.985},{"ion":"CIV","bin":"90-120 kpc","k":"d","x":14,"y":0.995},{"ion":"CIV","bin":"90-120 kpc","k":"d","x":16,"y":1.01},{"ion":"CIV","bin":"90-120 kpc","k":"d","x":18,"y":1.0},{"ion":"CIV","bin":"90-120 kpc","k":"d","x":20,"y":1.02},{"ion":"CIV","bin":"90-120 kpc","k":"d","x":22,"y":1.005},{"ion":"CIV","bin":"90-120 kpc","k":"d","x":24,"y":1.01},{"ion":"CIV","bin":"90-120 kpc","k":"d","x":26,"y":0.995},{"ion":"CIV","bin":"90-120 kpc","k":"d","x":28,"y":1.01},{"ion":"CIV","bin":"90-120 kpc","k":"d","x":30,"y":1.005},{"ion":"CIV","bin":"90-120 kpc","k":"d","x":32,"y":0.995},{"ion":"CIV","bin":"90-120 kpc","k":"d","x":34,"y":1.0},{"ion":"CIV","bin":"90-120 kpc","k":"d","x":36,"y":1.01},{"ion":"CIV","bin":"90-120 kpc","k":"d","x":38,"y":0.995},{"ion":"CIV","bin":"90-120 kpc","k":"d","x":40,"y":1.0},

  {"ion":"CIV","bin":"120-150 kpc","k":"dom","x":-30,"y":0.918,"y2":1.039},
  {"ion":"CIV","bin":"120-150 kpc","k":"ctr","x":0,"y":0.918,"y2":1.039},
  {"ion":"CIV","bin":"120-150 kpc","k":"ctr","x":2.57,"y":0.918,"y2":1.039},
  {"ion":"CIV","bin":"120-150 kpc","k":"lab","x":-26.5,"y":0.939,"t":"120-150 kpc"},
  {"ion":"CIV","bin":"120-150 kpc","k":"tl","x":35,"y":0.95,"t":"0.950"},
  {"ion":"CIV","bin":"120-150 kpc","k":"m","x":-30,"y":1,"c":1},{"ion":"CIV","bin":"120-150 kpc","k":"m","x":-27,"y":1,"c":1},{"ion":"CIV","bin":"120-150 kpc","k":"m","x":-25,"y":0.99,"c":1},{"ion":"CIV","bin":"120-150 kpc","k":"m","x":-23,"y":0.983,"c":1},{"ion":"CIV","bin":"120-150 kpc","k":"m","x":-22,"y":0.982,"c":1},{"ion":"CIV","bin":"120-150 kpc","k":"m","x":-21,"y":0.985,"c":1},{"ion":"CIV","bin":"120-150 kpc","k":"m","x":-19,"y":0.995,"c":1},{"ion":"CIV","bin":"120-150 kpc","k":"m","x":-17,"y":1,"c":1},{"ion":"CIV","bin":"120-150 kpc","k":"m","x":-3,"y":1,"c":1},{"ion":"CIV","bin":"120-150 kpc","k":"m","x":-2,"y":0.99,"c":1},{"ion":"CIV","bin":"120-150 kpc","k":"m","x":-1.5,"y":0.975,"c":1},{"ion":"CIV","bin":"120-150 kpc","k":"m","x":-1,"y":0.955,"c":1},{"ion":"CIV","bin":"120-150 kpc","k":"m","x":-0.5,"y":0.94,"c":1},{"ion":"CIV","bin":"120-150 kpc","k":"m","x":0,"y":0.936,"c":1},{"ion":"CIV","bin":"120-150 kpc","k":"m","x":0.5,"y":0.945,"c":1},{"ion":"CIV","bin":"120-150 kpc","k":"m","x":1,"y":0.955,"c":1},{"ion":"CIV","bin":"120-150 kpc","k":"m","x":1.5,"y":0.958,"c":1},{"ion":"CIV","bin":"120-150 kpc","k":"m","x":2,"y":0.958,"c":1},{"ion":"CIV","bin":"120-150 kpc","k":"m","x":2.5,"y":0.962,"c":1},{"ion":"CIV","bin":"120-150 kpc","k":"m","x":3,"y":0.972,"c":1},{"ion":"CIV","bin":"120-150 kpc","k":"m","x":3.5,"y":0.985,"c":1},{"ion":"CIV","bin":"120-150 kpc","k":"m","x":4.5,"y":1,"c":1},{"ion":"CIV","bin":"120-150 kpc","k":"m","x":8,"y":1,"c":1},{"ion":"CIV","bin":"120-150 kpc","k":"m","x":9,"y":0.985,"c":1},{"ion":"CIV","bin":"120-150 kpc","k":"m","x":10,"y":0.975,"c":1},{"ion":"CIV","bin":"120-150 kpc","k":"m","x":11,"y":0.985,"c":1},{"ion":"CIV","bin":"120-150 kpc","k":"m","x":12,"y":1,"c":1},{"ion":"CIV","bin":"120-150 kpc","k":"m","x":40,"y":1,"c":1},
  {"ion":"CIV","bin":"120-150 kpc","k":"d","x":-30,"y":0.995},{"ion":"CIV","bin":"120-150 kpc","k":"d","x":-28,"y":1.005},{"ion":"CIV","bin":"120-150 kpc","k":"d","x":-26,"y":0.985},{"ion":"CIV","bin":"120-150 kpc","k":"d","x":-24,"y":0.99},{"ion":"CIV","bin":"120-150 kpc","k":"d","x":-22,"y":0.98},{"ion":"CIV","bin":"120-150 kpc","k":"d","x":-20,"y":0.995},{"ion":"CIV","bin":"120-150 kpc","k":"d","x":-18,"y":1.01},{"ion":"CIV","bin":"120-150 kpc","k":"d","x":-16,"y":0.99},{"ion":"CIV","bin":"120-150 kpc","k":"d","x":-14,"y":1.01},{"ion":"CIV","bin":"120-150 kpc","k":"d","x":-12,"y":0.995},{"ion":"CIV","bin":"120-150 kpc","k":"d","x":-10,"y":1.015},{"ion":"CIV","bin":"120-150 kpc","k":"d","x":-8,"y":1.0},{"ion":"CIV","bin":"120-150 kpc","k":"d","x":-6,"y":1.01},{"ion":"CIV","bin":"120-150 kpc","k":"d","x":-4,"y":0.995},{"ion":"CIV","bin":"120-150 kpc","k":"d","x":-2,"y":0.99},{"ion":"CIV","bin":"120-150 kpc","k":"d","x":-1,"y":0.95},{"ion":"CIV","bin":"120-150 kpc","k":"d","x":0,"y":0.935},{"ion":"CIV","bin":"120-150 kpc","k":"d","x":1,"y":0.955},{"ion":"CIV","bin":"120-150 kpc","k":"d","x":2,"y":0.96},{"ion":"CIV","bin":"120-150 kpc","k":"d","x":3,"y":0.99},{"ion":"CIV","bin":"120-150 kpc","k":"d","x":4,"y":1.01},{"ion":"CIV","bin":"120-150 kpc","k":"d","x":6,"y":1.02},{"ion":"CIV","bin":"120-150 kpc","k":"d","x":8,"y":1.0},{"ion":"CIV","bin":"120-150 kpc","k":"d","x":10,"y":0.975},{"ion":"CIV","bin":"120-150 kpc","k":"d","x":12,"y":1.005},{"ion":"CIV","bin":"120-150 kpc","k":"d","x":14,"y":0.99},{"ion":"CIV","bin":"120-150 kpc","k":"d","x":16,"y":1.01},{"ion":"CIV","bin":"120-150 kpc","k":"d","x":18,"y":0.995},{"ion":"CIV","bin":"120-150 kpc","k":"d","x":20,"y":1.0},{"ion":"CIV","bin":"120-150 kpc","k":"d","x":22,"y":1.015},{"ion":"CIV","bin":"120-150 kpc","k":"d","x":24,"y":0.995},{"ion":"CIV","bin":"120-150 kpc","k":"d","x":26,"y":1.005},{"ion":"CIV","bin":"120-150 kpc","k":"d","x":28,"y":0.99},{"ion":"CIV","bin":"120-150 kpc","k":"d","x":30,"y":1.01},{"ion":"CIV","bin":"120-150 kpc","k":"d","x":32,"y":0.995},{"ion":"CIV","bin":"120-150 kpc","k":"d","x":34,"y":1.0},{"ion":"CIV","bin":"120-150 kpc","k":"d","x":36,"y":1.01},{"ion":"CIV","bin":"120-150 kpc","k":"d","x":38,"y":0.99},{"ion":"CIV","bin":"120-150 kpc","k":"d","x":40,"y":1.0},

  {"ion":"MgII","bin":"10-20 kpc","k":"dom","x":-30,"y":0.135,"y2":1.154},
  {"ion":"MgII","bin":"10-20 kpc","k":"ctr","x":-3.6,"y":0.135,"y2":1.154},
  {"ion":"MgII","bin":"10-20 kpc","k":"ctr","x":3.6,"y":0.135,"y2":1.154},
  {"ion":"MgII","bin":"10-20 kpc","k":"lab","x":-26.5,"y":0.308,"t":"10-20 kpc"},
  {"ion":"MgII","bin":"10-20 kpc","k":"tl","x":26.5,"y":0.5,"t":"0.500"},
  {"ion":"MgII","bin":"10-20 kpc","k":"m","x":-30,"y":1,"c":1},{"ion":"MgII","bin":"10-20 kpc","k":"m","x":-7.6,"y":1,"c":1},{"ion":"MgII","bin":"10-20 kpc","k":"m","x":-6.6,"y":0.97,"c":1},{"ion":"MgII","bin":"10-20 kpc","k":"m","x":-6,"y":0.918,"c":1},{"ion":"MgII","bin":"10-20 kpc","k":"m","x":-5.5,"y":0.82,"c":1},{"ion":"MgII","bin":"10-20 kpc","k":"m","x":-5,"y":0.655,"c":1},{"ion":"MgII","bin":"10-20 kpc","k":"m","x":-4.5,"y":0.46,"c":1},{"ion":"MgII","bin":"10-20 kpc","k":"m","x":-4,"y":0.31,"c":1},{"ion":"MgII","bin":"10-20 kpc","k":"m","x":-3.6,"y":0.25,"c":1},{"ion":"MgII","bin":"10-20 kpc","k":"m","x":-3.2,"y":0.31,"c":1},{"ion":"MgII","bin":"10-20 kpc","k":"m","x":-2.7,"y":0.46,"c":1},{"ion":"MgII","bin":"10-20 kpc","k":"m","x":-2.2,"y":0.655,"c":1},{"ion":"MgII","bin":"10-20 kpc","k":"m","x":-1.7,"y":0.82,"c":1},{"ion":"MgII","bin":"10-20 kpc","k":"m","x":-1.2,"y":0.918,"c":1},{"ion":"MgII","bin":"10-20 kpc","k":"m","x":-0.6,"y":0.97,"c":1},{"ion":"MgII","bin":"10-20 kpc","k":"m","x":0,"y":0.99,"c":1},{"ion":"MgII","bin":"10-20 kpc","k":"m","x":0.6,"y":0.976,"c":1},{"ion":"MgII","bin":"10-20 kpc","k":"m","x":1.2,"y":0.934,"c":1},{"ion":"MgII","bin":"10-20 kpc","k":"m","x":1.7,"y":0.856,"c":1},{"ion":"MgII","bin":"10-20 kpc","k":"m","x":2.2,"y":0.724,"c":1},{"ion":"MgII","bin":"10-20 kpc","k":"m","x":2.7,"y":0.568,"c":1},{"ion":"MgII","bin":"10-20 kpc","k":"m","x":3.2,"y":0.448,"c":1},{"ion":"MgII","bin":"10-20 kpc","k":"m","x":3.6,"y":0.4,"c":1},{"ion":"MgII","bin":"10-20 kpc","k":"m","x":4,"y":0.448,"c":1},{"ion":"MgII","bin":"10-20 kpc","k":"m","x":4.5,"y":0.568,"c":1},{"ion":"MgII","bin":"10-20 kpc","k":"m","x":5,"y":0.724,"c":1},{"ion":"MgII","bin":"10-20 kpc","k":"m","x":5.5,"y":0.856,"c":1},{"ion":"MgII","bin":"10-20 kpc","k":"m","x":6,"y":0.934,"c":1},{"ion":"MgII","bin":"10-20 kpc","k":"m","x":6.6,"y":0.976,"c":1},{"ion":"MgII","bin":"10-20 kpc","k":"m","x":7.6,"y":1,"c":1},{"ion":"MgII","bin":"10-20 kpc","k":"m","x":30,"y":1,"c":1},
  {"ion":"MgII","bin":"10-20 kpc","k":"d","x":-30,"y":1.01},{"ion":"MgII","bin":"10-20 kpc","k":"d","x":-28,"y":1.0},{"ion":"MgII","bin":"10-20 kpc","k":"d","x":-26,"y":1.02},{"ion":"MgII","bin":"10-20 kpc","k":"d","x":-24,"y":1.0},{"ion":"MgII","bin":"10-20 kpc","k":"d","x":-22,"y":0.99},{"ion":"MgII","bin":"10-20 kpc","k":"d","x":-20,"y":1.01},{"ion":"MgII","bin":"10-20 kpc","k":"d","x":-18,"y":1.0},{"ion":"MgII","bin":"10-20 kpc","k":"d","x":-16,"y":1.02},{"ion":"MgII","bin":"10-20 kpc","k":"d","x":-14,"y":0.99},{"ion":"MgII","bin":"10-20 kpc","k":"d","x":-12,"y":1.0},{"ion":"MgII","bin":"10-20 kpc","k":"d","x":-10,"y":1.01},{"ion":"MgII","bin":"10-20 kpc","k":"d","x":-8,"y":0.99},{"ion":"MgII","bin":"10-20 kpc","k":"d","x":-6,"y":0.92},{"ion":"MgII","bin":"10-20 kpc","k":"d","x":-5,"y":0.63},{"ion":"MgII","bin":"10-20 kpc","k":"d","x":-4,"y":0.3},{"ion":"MgII","bin":"10-20 kpc","k":"d","x":-3,"y":0.32},{"ion":"MgII","bin":"10-20 kpc","k":"d","x":-2,"y":0.7},{"ion":"MgII","bin":"10-20 kpc","k":"d","x":-1,"y":0.95},{"ion":"MgII","bin":"10-20 kpc","k":"d","x":0,"y":0.98},{"ion":"MgII","bin":"10-20 kpc","k":"d","x":1,"y":0.92},{"ion":"MgII","bin":"10-20 kpc","k":"d","x":2,"y":0.7},{"ion":"MgII","bin":"10-20 kpc","k":"d","x":3,"y":0.45},{"ion":"MgII","bin":"10-20 kpc","k":"d","x":4,"y":0.43},{"ion":"MgII","bin":"10-20 kpc","k":"d","x":5,"y":0.7},{"ion":"MgII","bin":"10-20 kpc","k":"d","x":6,"y":0.92},{"ion":"MgII","bin":"10-20 kpc","k":"d","x":7,"y":0.98},{"ion":"MgII","bin":"10-20 kpc","k":"d","x":8,"y":1.0},{"ion":"MgII","bin":"10-20 kpc","k":"d","x":10,"y":1.01},{"ion":"MgII","bin":"10-20 kpc","k":"d","x":12,"y":0.99},{"ion":"MgII","bin":"10-20 kpc","k":"d","x":14,"y":1.0},{"ion":"MgII","bin":"10-20 kpc","k":"d","x":16,"y":1.01},{"ion":"MgII","bin":"10-20 kpc","k":"d","x":18,"y":0.99},{"ion":"MgII","bin":"10-20 kpc","k":"d","x":20,"y":1.0},{"ion":"MgII","bin":"10-20 kpc","k":"d","x":22,"y":1.01},{"ion":"MgII","bin":"10-20 kpc","k":"d","x":24,"y":0.99},{"ion":"MgII","bin":"10-20 kpc","k":"d","x":26,"y":1.0},{"ion":"MgII","bin":"10-20 kpc","k":"d","x":28,"y":1.01},{"ion":"MgII","bin":"10-20 kpc","k":"d","x":30,"y":1.0},

  {"ion":"MgII","bin":"20-35 kpc","k":"dom","x":-30,"y":0.258,"y2":1.113},
  {"ion":"MgII","bin":"20-35 kpc","k":"ctr","x":-3.6,"y":0.258,"y2":1.113},
  {"ion":"MgII","bin":"20-35 kpc","k":"ctr","x":3.6,"y":0.258,"y2":1.113},
  {"ion":"MgII","bin":"20-35 kpc","k":"lab","x":-26.5,"y":0.403,"t":"20-35 kpc"},
  {"ion":"MgII","bin":"20-35 kpc","k":"tl","x":26.5,"y":0.5,"t":"0.500"},
  {"ion":"MgII","bin":"20-35 kpc","k":"m","x":-30,"y":1,"c":1},{"ion":"MgII","bin":"20-35 kpc","k":"m","x":-7.6,"y":1,"c":1},{"ion":"MgII","bin":"20-35 kpc","k":"m","x":-6.6,"y":0.975,"c":1},{"ion":"MgII","bin":"20-35 kpc","k":"m","x":-6,"y":0.931,"c":1},{"ion":"MgII","bin":"20-35 kpc","k":"m","x":-5.5,"y":0.849,"c":1},{"ion":"MgII","bin":"20-35 kpc","k":"m","x":-5,"y":0.71,"c":1},{"ion":"MgII","bin":"20-35 kpc","k":"m","x":-4.5,"y":0.546,"c":1},{"ion":"MgII","bin":"20-35 kpc","k":"m","x":-4,"y":0.42,"c":1},{"ion":"MgII","bin":"20-35 kpc","k":"m","x":-3.6,"y":0.37,"c":1},{"ion":"MgII","bin":"20-35 kpc","k":"m","x":-3.2,"y":0.42,"c":1},{"ion":"MgII","bin":"20-35 kpc","k":"m","x":-2.7,"y":0.546,"c":1},{"ion":"MgII","bin":"20-35 kpc","k":"m","x":-2.2,"y":0.71,"c":1},{"ion":"MgII","bin":"20-35 kpc","k":"m","x":-1.7,"y":0.849,"c":1},{"ion":"MgII","bin":"20-35 kpc","k":"m","x":-1.2,"y":0.931,"c":1},{"ion":"MgII","bin":"20-35 kpc","k":"m","x":-0.6,"y":0.975,"c":1},{"ion":"MgII","bin":"20-35 kpc","k":"m","x":0,"y":0.995,"c":1},{"ion":"MgII","bin":"20-35 kpc","k":"m","x":0.6,"y":0.979,"c":1},{"ion":"MgII","bin":"20-35 kpc","k":"m","x":1.2,"y":0.942,"c":1},{"ion":"MgII","bin":"20-35 kpc","k":"m","x":1.7,"y":0.873,"c":1},{"ion":"MgII","bin":"20-35 kpc","k":"m","x":2.2,"y":0.756,"c":1},{"ion":"MgII","bin":"20-35 kpc","k":"m","x":2.7,"y":0.618,"c":1},{"ion":"MgII","bin":"20-35 kpc","k":"m","x":3.2,"y":0.512,"c":1},{"ion":"MgII","bin":"20-35 kpc","k":"m","x":3.6,"y":0.47,"c":1},{"ion":"MgII","bin":"20-35 kpc","k":"m","x":4,"y":0.512,"c":1},{"ion":"MgII","bin":"20-35 kpc","k":"m","x":4.5,"y":0.618,"c":1},{"ion":"MgII","bin":"20-35 kpc","k":"m","x":5,"y":0.756,"c":1},{"ion":"MgII","bin":"20-35 kpc","k":"m","x":5.5,"y":0.873,"c":1},{"ion":"MgII","bin":"20-35 kpc","k":"m","x":6,"y":0.942,"c":1},{"ion":"MgII","bin":"20-35 kpc","k":"m","x":6.6,"y":0.979,"c":1},{"ion":"MgII","bin":"20-35 kpc","k":"m","x":7.6,"y":1,"c":1},{"ion":"MgII","bin":"20-35 kpc","k":"m","x":30,"y":1,"c":1},
  {"ion":"MgII","bin":"20-35 kpc","k":"d","x":-30,"y":1.0},{"ion":"MgII","bin":"20-35 kpc","k":"d","x":-28,"y":1.005},{"ion":"MgII","bin":"20-35 kpc","k":"d","x":-26,"y":1.0},{"ion":"MgII","bin":"20-35 kpc","k":"d","x":-24,"y":0.995},{"ion":"MgII","bin":"20-35 kpc","k":"d","x":-22,"y":1.005},{"ion":"MgII","bin":"20-35 kpc","k":"d","x":-20,"y":1.0},{"ion":"MgII","bin":"20-35 kpc","k":"d","x":-18,"y":0.995},{"ion":"MgII","bin":"20-35 kpc","k":"d","x":-16,"y":1.0},{"ion":"MgII","bin":"20-35 kpc","k":"d","x":-14,"y":1.005},{"ion":"MgII","bin":"20-35 kpc","k":"d","x":-12,"y":1.0},{"ion":"MgII","bin":"20-35 kpc","k":"d","x":-10,"y":0.995},{"ion":"MgII","bin":"20-35 kpc","k":"d","x":-8,"y":1.0},{"ion":"MgII","bin":"20-35 kpc","k":"d","x":-6,"y":0.93},{"ion":"MgII","bin":"20-35 kpc","k":"d","x":-5,"y":0.71},{"ion":"MgII","bin":"20-35 kpc","k":"d","x":-4,"y":0.42},{"ion":"MgII","bin":"20-35 kpc","k":"d","x":-3,"y":0.46},{"ion":"MgII","bin":"20-35 kpc","k":"d","x":-2,"y":0.78},{"ion":"MgII","bin":"20-35 kpc","k":"d","x":-1,"y":0.96},{"ion":"MgII","bin":"20-35 kpc","k":"d","x":0,"y":0.99},{"ion":"MgII","bin":"20-35 kpc","k":"d","x":1,"y":0.96},{"ion":"MgII","bin":"20-35 kpc","k":"d","x":2,"y":0.82},{"ion":"MgII","bin":"20-35 kpc","k":"d","x":3,"y":0.55},{"ion":"MgII","bin":"20-35 kpc","k":"d","x":4,"y":0.5},{"ion":"MgII","bin":"20-35 kpc","k":"d","x":5,"y":0.76},{"ion":"MgII","bin":"20-35 kpc","k":"d","x":6,"y":0.94},{"ion":"MgII","bin":"20-35 kpc","k":"d","x":7,"y":0.99},{"ion":"MgII","bin":"20-35 kpc","k":"d","x":8,"y":1.0},{"ion":"MgII","bin":"20-35 kpc","k":"d","x":10,"y":1.005},{"ion":"MgII","bin":"20-35 kpc","k":"d","x":12,"y":0.995},{"ion":"MgII","bin":"20-35 kpc","k":"d","x":14,"y":1.0},{"ion":"MgII","bin":"20-35 kpc","k":"d","x":16,"y":1.005},{"ion":"MgII","bin":"20-35 kpc","k":"d","x":18,"y":1.0},{"ion":"MgII","bin":"20-35 kpc","k":"d","x":20,"y":0.995},{"ion":"MgII","bin":"20-35 kpc","k":"d","x":22,"y":1.0},{"ion":"MgII","bin":"20-35 kpc","k":"d","x":24,"y":1.005},{"ion":"MgII","bin":"20-35 kpc","k":"d","x":26,"y":1.0},{"ion":"MgII","bin":"20-35 kpc","k":"d","x":28,"y":0.995},{"ion":"MgII","bin":"20-35 kpc","k":"d","x":30,"y":1.0},

  {"ion":"MgII","bin":"35-60 kpc","k":"dom","x":-30,"y":0.76,"y2":0.972},
  {"ion":"MgII","bin":"35-60 kpc","k":"ctr","x":-3.6,"y":0.76,"y2":0.972},
  {"ion":"MgII","bin":"35-60 kpc","k":"ctr","x":3.6,"y":0.76,"y2":0.972},
  {"ion":"MgII","bin":"35-60 kpc","k":"lab","x":-26.5,"y":0.796,"t":"35-60 kpc"},
  {"ion":"MgII","bin":"35-60 kpc","k":"tl","x":26.5,"y":0.9,"t":"0.900"},
  {"ion":"MgII","bin":"35-60 kpc","k":"tl","x":26.5,"y":0.8,"t":"0.800"},
  {"ion":"MgII","bin":"35-60 kpc","k":"m","x":-30,"y":0.94,"c":0.94},{"ion":"MgII","bin":"35-60 kpc","k":"m","x":-7.6,"y":0.94,"c":0.94},{"ion":"MgII","bin":"35-60 kpc","k":"m","x":-6.6,"y":0.934,"c":0.94},{"ion":"MgII","bin":"35-60 kpc","k":"m","x":-6,"y":0.924,"c":0.94},{"ion":"MgII","bin":"35-60 kpc","k":"m","x":-5.5,"y":0.904,"c":0.94},{"ion":"MgII","bin":"35-60 kpc","k":"m","x":-5,"y":0.872,"c":0.94},{"ion":"MgII","bin":"35-60 kpc","k":"m","x":-4.5,"y":0.833,"c":0.94},{"ion":"MgII","bin":"35-60 kpc","k":"m","x":-4,"y":0.804,"c":0.94},{"ion":"MgII","bin":"35-60 kpc","k":"m","x":-3.6,"y":0.792,"c":0.94},{"ion":"MgII","bin":"35-60 kpc","k":"m","x":-3.2,"y":0.804,"c":0.94},{"ion":"MgII","bin":"35-60 kpc","k":"m","x":-2.7,"y":0.833,"c":0.94},{"ion":"MgII","bin":"35-60 kpc","k":"m","x":-2.2,"y":0.872,"c":0.94},{"ion":"MgII","bin":"35-60 kpc","k":"m","x":-1.7,"y":0.904,"c":0.94},{"ion":"MgII","bin":"35-60 kpc","k":"m","x":-1.2,"y":0.924,"c":0.94},{"ion":"MgII","bin":"35-60 kpc","k":"m","x":-0.6,"y":0.934,"c":0.94},{"ion":"MgII","bin":"35-60 kpc","k":"m","x":0,"y":0.939,"c":0.94},{"ion":"MgII","bin":"35-60 kpc","k":"m","x":0.6,"y":0.935,"c":0.94},{"ion":"MgII","bin":"35-60 kpc","k":"m","x":1.2,"y":0.927,"c":0.94},{"ion":"MgII","bin":"35-60 kpc","k":"m","x":1.7,"y":0.912,"c":0.94},{"ion":"MgII","bin":"35-60 kpc","k":"m","x":2.2,"y":0.887,"c":0.94},{"ion":"MgII","bin":"35-60 kpc","k":"m","x":2.7,"y":0.856,"c":0.94},{"ion":"MgII","bin":"35-60 kpc","k":"m","x":3.2,"y":0.833,"c":0.94},{"ion":"MgII","bin":"35-60 kpc","k":"m","x":3.6,"y":0.824,"c":0.94},{"ion":"MgII","bin":"35-60 kpc","k":"m","x":4,"y":0.833,"c":0.94},{"ion":"MgII","bin":"35-60 kpc","k":"m","x":4.5,"y":0.856,"c":0.94},{"ion":"MgII","bin":"35-60 kpc","k":"m","x":5,"y":0.887,"c":0.94},{"ion":"MgII","bin":"35-60 kpc","k":"m","x":5.5,"y":0.912,"c":0.94},{"ion":"MgII","bin":"35-60 kpc","k":"m","x":6,"y":0.927,"c":0.94},{"ion":"MgII","bin":"35-60 kpc","k":"m","x":6.6,"y":0.935,"c":0.94},{"ion":"MgII","bin":"35-60 kpc","k":"m","x":7.6,"y":0.94,"c":0.94},{"ion":"MgII","bin":"35-60 kpc","k":"m","x":30,"y":0.94,"c":0.94},
  {"ion":"MgII","bin":"35-60 kpc","k":"d","x":-30,"y":0.943},{"ion":"MgII","bin":"35-60 kpc","k":"d","x":-28,"y":0.941},{"ion":"MgII","bin":"35-60 kpc","k":"d","x":-26,"y":0.944},{"ion":"MgII","bin":"35-60 kpc","k":"d","x":-24,"y":0.939},{"ion":"MgII","bin":"35-60 kpc","k":"d","x":-22,"y":0.942},{"ion":"MgII","bin":"35-60 kpc","k":"d","x":-20,"y":0.944},{"ion":"MgII","bin":"35-60 kpc","k":"d","x":-18,"y":0.94},{"ion":"MgII","bin":"35-60 kpc","k":"d","x":-16,"y":0.943},{"ion":"MgII","bin":"35-60 kpc","k":"d","x":-14,"y":0.941},{"ion":"MgII","bin":"35-60 kpc","k":"d","x":-12,"y":0.938},{"ion":"MgII","bin":"35-60 kpc","k":"d","x":-10,"y":0.943},{"ion":"MgII","bin":"35-60 kpc","k":"d","x":-8,"y":0.941},{"ion":"MgII","bin":"35-60 kpc","k":"d","x":-6,"y":0.92},{"ion":"MgII","bin":"35-60 kpc","k":"d","x":-5,"y":0.87},{"ion":"MgII","bin":"35-60 kpc","k":"d","x":-4,"y":0.8},{"ion":"MgII","bin":"35-60 kpc","k":"d","x":-3,"y":0.81},{"ion":"MgII","bin":"35-60 kpc","k":"d","x":-2,"y":0.88},{"ion":"MgII","bin":"35-60 kpc","k":"d","x":-1,"y":0.93},{"ion":"MgII","bin":"35-60 kpc","k":"d","x":0,"y":0.94},{"ion":"MgII","bin":"35-60 kpc","k":"d","x":1,"y":0.927},{"ion":"MgII","bin":"35-60 kpc","k":"d","x":2,"y":0.895},{"ion":"MgII","bin":"35-60 kpc","k":"d","x":3,"y":0.836},{"ion":"MgII","bin":"35-60 kpc","k":"d","x":4,"y":0.83},{"ion":"MgII","bin":"35-60 kpc","k":"d","x":5,"y":0.89},{"ion":"MgII","bin":"35-60 kpc","k":"d","x":6,"y":0.928},{"ion":"MgII","bin":"35-60 kpc","k":"d","x":7,"y":0.94},{"ion":"MgII","bin":"35-60 kpc","k":"d","x":8,"y":0.942},{"ion":"MgII","bin":"35-60 kpc","k":"d","x":10,"y":0.944},{"ion":"MgII","bin":"35-60 kpc","k":"d","x":12,"y":0.941},{"ion":"MgII","bin":"35-60 kpc","k":"d","x":14,"y":0.943},{"ion":"MgII","bin":"35-60 kpc","k":"d","x":16,"y":0.939},{"ion":"MgII","bin":"35-60 kpc","k":"d","x":18,"y":0.943},{"ion":"MgII","bin":"35-60 kpc","k":"d","x":20,"y":0.941},{"ion":"MgII","bin":"35-60 kpc","k":"d","x":22,"y":0.944},{"ion":"MgII","bin":"35-60 kpc","k":"d","x":24,"y":0.94},{"ion":"MgII","bin":"35-60 kpc","k":"d","x":26,"y":0.942},{"ion":"MgII","bin":"35-60 kpc","k":"d","x":28,"y":0.944},{"ion":"MgII","bin":"35-60 kpc","k":"d","x":30,"y":0.941},

  {"ion":"MgII","bin":"60-90 kpc","k":"dom","x":-30,"y":0.924,"y2":1.0155},
  {"ion":"MgII","bin":"60-90 kpc","k":"ctr","x":-3.6,"y":0.924,"y2":1.0155},
  {"ion":"MgII","bin":"60-90 kpc","k":"ctr","x":3.6,"y":0.924,"y2":1.0155},
  {"ion":"MgII","bin":"60-90 kpc","k":"lab","x":-26.5,"y":0.94,"t":"60-90 kpc"},
  {"ion":"MgII","bin":"60-90 kpc","k":"tl","x":26.5,"y":0.95,"t":"0.950"},
  {"ion":"MgII","bin":"60-90 kpc","k":"m","x":-30,"y":1,"c":1},{"ion":"MgII","bin":"60-90 kpc","k":"m","x":-7.6,"y":1,"c":1},{"ion":"MgII","bin":"60-90 kpc","k":"m","x":-6.6,"y":0.997,"c":1},{"ion":"MgII","bin":"60-90 kpc","k":"m","x":-6,"y":0.993,"c":1},{"ion":"MgII","bin":"60-90 kpc","k":"m","x":-5.5,"y":0.984,"c":1},{"ion":"MgII","bin":"60-90 kpc","k":"m","x":-5,"y":0.969,"c":1},{"ion":"MgII","bin":"60-90 kpc","k":"m","x":-4.5,"y":0.952,"c":1},{"ion":"MgII","bin":"60-90 kpc","k":"m","x":-4,"y":0.938,"c":1},{"ion":"MgII","bin":"60-90 kpc","k":"m","x":-3.6,"y":0.933,"c":1},{"ion":"MgII","bin":"60-90 kpc","k":"m","x":-3.2,"y":0.938,"c":1},{"ion":"MgII","bin":"60-90 kpc","k":"m","x":-2.7,"y":0.952,"c":1},{"ion":"MgII","bin":"60-90 kpc","k":"m","x":-2.2,"y":0.969,"c":1},{"ion":"MgII","bin":"60-90 kpc","k":"m","x":-1.7,"y":0.984,"c":1},{"ion":"MgII","bin":"60-90 kpc","k":"m","x":-1.2,"y":0.993,"c":1},{"ion":"MgII","bin":"60-90 kpc","k":"m","x":-0.6,"y":0.997,"c":1},{"ion":"MgII","bin":"60-90 kpc","k":"m","x":0,"y":0.999,"c":1},{"ion":"MgII","bin":"60-90 kpc","k":"m","x":0.6,"y":0.997,"c":1},{"ion":"MgII","bin":"60-90 kpc","k":"m","x":1.2,"y":0.993,"c":1},{"ion":"MgII","bin":"60-90 kpc","k":"m","x":1.7,"y":0.984,"c":1},{"ion":"MgII","bin":"60-90 kpc","k":"m","x":2.2,"y":0.97,"c":1},{"ion":"MgII","bin":"60-90 kpc","k":"m","x":2.7,"y":0.953,"c":1},{"ion":"MgII","bin":"60-90 kpc","k":"m","x":3.2,"y":0.94,"c":1},{"ion":"MgII","bin":"60-90 kpc","k":"m","x":3.6,"y":0.935,"c":1},{"ion":"MgII","bin":"60-90 kpc","k":"m","x":4,"y":0.94,"c":1},{"ion":"MgII","bin":"60-90 kpc","k":"m","x":4.5,"y":0.953,"c":1},{"ion":"MgII","bin":"60-90 kpc","k":"m","x":5,"y":0.97,"c":1},{"ion":"MgII","bin":"60-90 kpc","k":"m","x":5.5,"y":0.984,"c":1},{"ion":"MgII","bin":"60-90 kpc","k":"m","x":6,"y":0.993,"c":1},{"ion":"MgII","bin":"60-90 kpc","k":"m","x":6.6,"y":0.997,"c":1},{"ion":"MgII","bin":"60-90 kpc","k":"m","x":7.6,"y":1,"c":1},{"ion":"MgII","bin":"60-90 kpc","k":"m","x":30,"y":1,"c":1},
  {"ion":"MgII","bin":"60-90 kpc","k":"d","x":-30,"y":1.003},{"ion":"MgII","bin":"60-90 kpc","k":"d","x":-28,"y":0.998},{"ion":"MgII","bin":"60-90 kpc","k":"d","x":-26,"y":1.004},{"ion":"MgII","bin":"60-90 kpc","k":"d","x":-24,"y":1.0},{"ion":"MgII","bin":"60-90 kpc","k":"d","x":-22,"y":1.002},{"ion":"MgII","bin":"60-90 kpc","k":"d","x":-20,"y":0.996},{"ion":"MgII","bin":"60-90 kpc","k":"d","x":-18,"y":0.995},{"ion":"MgII","bin":"60-90 kpc","k":"d","x":-16,"y":1.001},{"ion":"MgII","bin":"60-90 kpc","k":"d","x":-14,"y":0.997},{"ion":"MgII","bin":"60-90 kpc","k":"d","x":-12,"y":0.996},{"ion":"MgII","bin":"60-90 kpc","k":"d","x":-10,"y":1.002},{"ion":"MgII","bin":"60-90 kpc","k":"d","x":-8,"y":1.0},{"ion":"MgII","bin":"60-90 kpc","k":"d","x":-6,"y":0.99},{"ion":"MgII","bin":"60-90 kpc","k":"d","x":-5,"y":0.97},{"ion":"MgII","bin":"60-90 kpc","k":"d","x":-4,"y":0.94},{"ion":"MgII","bin":"60-90 kpc","k":"d","x":-3,"y":0.945},{"ion":"MgII","bin":"60-90 kpc","k":"d","x":-2,"y":0.975},{"ion":"MgII","bin":"60-90 kpc","k":"d","x":-1,"y":0.995},{"ion":"MgII","bin":"60-90 kpc","k":"d","x":0,"y":1.0},{"ion":"MgII","bin":"60-90 kpc","k":"d","x":1,"y":0.995},{"ion":"MgII","bin":"60-90 kpc","k":"d","x":2,"y":0.975},{"ion":"MgII","bin":"60-90 kpc","k":"d","x":3,"y":0.945},{"ion":"MgII","bin":"60-90 kpc","k":"d","x":4,"y":0.94},{"ion":"MgII","bin":"60-90 kpc","k":"d","x":5,"y":0.97},{"ion":"MgII","bin":"60-90 kpc","k":"d","x":6,"y":0.99},{"ion":"MgII","bin":"60-90 kpc","k":"d","x":7,"y":0.998},{"ion":"MgII","bin":"60-90 kpc","k":"d","x":8,"y":1.001},{"ion":"MgII","bin":"60-90 kpc","k":"d","x":10,"y":1.003},{"ion":"MgII","bin":"60-90 kpc","k":"d","x":12,"y":0.999},{"ion":"MgII","bin":"60-90 kpc","k":"d","x":14,"y":1.001},{"ion":"MgII","bin":"60-90 kpc","k":"d","x":16,"y":0.998},{"ion":"MgII","bin":"60-90 kpc","k":"d","x":18,"y":1.002},{"ion":"MgII","bin":"60-90 kpc","k":"d","x":20,"y":1.0},{"ion":"MgII","bin":"60-90 kpc","k":"d","x":22,"y":1.003},{"ion":"MgII","bin":"60-90 kpc","k":"d","x":24,"y":0.999},{"ion":"MgII","bin":"60-90 kpc","k":"d","x":26,"y":1.001},{"ion":"MgII","bin":"60-90 kpc","k":"d","x":28,"y":0.998},{"ion":"MgII","bin":"60-90 kpc","k":"d","x":30,"y":1.0},

  {"ion":"MgII","bin":"90-120 kpc","k":"dom","x":-30,"y":0.9846,"y2":1.005},
  {"ion":"MgII","bin":"90-120 kpc","k":"ctr","x":-3.6,"y":0.9846,"y2":1.005},
  {"ion":"MgII","bin":"90-120 kpc","k":"ctr","x":3.6,"y":0.9846,"y2":1.005},
  {"ion":"MgII","bin":"90-120 kpc","k":"lab","x":-26.5,"y":0.988,"t":"90-120 kpc"},
  {"ion":"MgII","bin":"90-120 kpc","k":"tl","x":26.5,"y":0.99,"t":"0.990"},
  {"ion":"MgII","bin":"90-120 kpc","k":"m","x":-30,"y":1,"c":1},{"ion":"MgII","bin":"90-120 kpc","k":"m","x":-10.6,"y":1,"c":1},{"ion":"MgII","bin":"90-120 kpc","k":"m","x":-9.6,"y":0.9998,"c":1},{"ion":"MgII","bin":"90-120 kpc","k":"m","x":-8.6,"y":0.9993,"c":1},{"ion":"MgII","bin":"90-120 kpc","k":"m","x":-7.6,"y":0.9982,"c":1},{"ion":"MgII","bin":"90-120 kpc","k":"m","x":-6.6,"y":0.9963,"c":1},{"ion":"MgII","bin":"90-120 kpc","k":"m","x":-5.6,"y":0.9937,"c":1},{"ion":"MgII","bin":"90-120 kpc","k":"m","x":-4.6,"y":0.9914,"c":1},{"ion":"MgII","bin":"90-120 kpc","k":"m","x":-3.6,"y":0.9904,"c":1},{"ion":"MgII","bin":"90-120 kpc","k":"m","x":-2.6,"y":0.9913,"c":1},{"ion":"MgII","bin":"90-120 kpc","k":"m","x":-1.6,"y":0.9931,"c":1},{"ion":"MgII","bin":"90-120 kpc","k":"m","x":-0.6,"y":0.9948,"c":1},{"ion":"MgII","bin":"90-120 kpc","k":"m","x":0.4,"y":0.995,"c":1},{"ion":"MgII","bin":"90-120 kpc","k":"m","x":1.6,"y":0.9933,"c":1},{"ion":"MgII","bin":"90-120 kpc","k":"m","x":2.6,"y":0.9916,"c":1},{"ion":"MgII","bin":"90-120 kpc","k":"m","x":3.6,"y":0.9908,"c":1},{"ion":"MgII","bin":"90-120 kpc","k":"m","x":4.6,"y":0.9917,"c":1},{"ion":"MgII","bin":"90-120 kpc","k":"m","x":5.6,"y":0.9939,"c":1},{"ion":"MgII","bin":"90-120 kpc","k":"m","x":6.6,"y":0.9964,"c":1},{"ion":"MgII","bin":"90-120 kpc","k":"m","x":7.6,"y":0.9983,"c":1},{"ion":"MgII","bin":"90-120 kpc","k":"m","x":8.6,"y":0.9994,"c":1},{"ion":"MgII","bin":"90-120 kpc","k":"m","x":9.6,"y":0.9998,"c":1},{"ion":"MgII","bin":"90-120 kpc","k":"m","x":10.6,"y":1,"c":1},{"ion":"MgII","bin":"90-120 kpc","k":"m","x":30,"y":1,"c":1},
  {"ion":"MgII","bin":"90-120 kpc","k":"d","x":-30,"y":1.003},{"ion":"MgII","bin":"90-120 kpc","k":"d","x":-28,"y":0.998},{"ion":"MgII","bin":"90-120 kpc","k":"d","x":-26,"y":1.004},{"ion":"MgII","bin":"90-120 kpc","k":"d","x":-24,"y":0.994},{"ion":"MgII","bin":"90-120 kpc","k":"d","x":-22,"y":1.002},{"ion":"MgII","bin":"90-120 kpc","k":"d","x":-20,"y":1.004},{"ion":"MgII","bin":"90-120 kpc","k":"d","x":-18,"y":0.996},{"ion":"MgII","bin":"90-120 kpc","k":"d","x":-16,"y":0.993},{"ion":"MgII","bin":"90-120 kpc","k":"d","x":-14,"y":1.003},{"ion":"MgII","bin":"90-120 kpc","k":"d","x":-12,"y":0.999},{"ion":"MgII","bin":"90-120 kpc","k":"d","x":-10,"y":1.004},{"ion":"MgII","bin":"90-120 kpc","k":"d","x":-8,"y":0.995},{"ion":"MgII","bin":"90-120 kpc","k":"d","x":-6,"y":0.996},{"ion":"MgII","bin":"90-120 kpc","k":"d","x":-4,"y":0.99},{"ion":"MgII","bin":"90-120 kpc","k":"d","x":-2,"y":0.9935},{"ion":"MgII","bin":"90-120 kpc","k":"d","x":0,"y":0.996},{"ion":"MgII","bin":"90-120 kpc","k":"d","x":2,"y":0.992},{"ion":"MgII","bin":"90-120 kpc","k":"d","x":4,"y":0.9905},{"ion":"MgII","bin":"90-120 kpc","k":"d","x":6,"y":0.997},{"ion":"MgII","bin":"90-120 kpc","k":"d","x":8,"y":1.003},{"ion":"MgII","bin":"90-120 kpc","k":"d","x":10,"y":0.996},{"ion":"MgII","bin":"90-120 kpc","k":"d","x":12,"y":1.004},{"ion":"MgII","bin":"90-120 kpc","k":"d","x":14,"y":0.995},{"ion":"MgII","bin":"90-120 kpc","k":"d","x":16,"y":1.003},{"ion":"MgII","bin":"90-120 kpc","k":"d","x":18,"y":0.994},{"ion":"MgII","bin":"90-120 kpc","k":"d","x":20,"y":1.004},{"ion":"MgII","bin":"90-120 kpc","k":"d","x":22,"y":0.997},{"ion":"MgII","bin":"90-120 kpc","k":"d","x":24,"y":1.003},{"ion":"MgII","bin":"90-120 kpc","k":"d","x":26,"y":0.995},{"ion":"MgII","bin":"90-120 kpc","k":"d","x":28,"y":1.004},{"ion":"MgII","bin":"90-120 kpc","k":"d","x":30,"y":0.999},

  {"ion":"MgII","bin":"120-150 kpc","k":"dom","x":-30,"y":0.9846,"y2":1.005},
  {"ion":"MgII","bin":"120-150 kpc","k":"ctr","x":-3.6,"y":0.9846,"y2":1.005},
  {"ion":"MgII","bin":"120-150 kpc","k":"ctr","x":3.6,"y":0.9846,"y2":1.005},
  {"ion":"MgII","bin":"120-150 kpc","k":"lab","x":-26.5,"y":0.988,"t":"120-150 kpc"},
  {"ion":"MgII","bin":"120-150 kpc","k":"tl","x":26.5,"y":0.99,"t":"0.990"},
  {"ion":"MgII","bin":"120-150 kpc","k":"m","x":-30,"y":1,"c":1},{"ion":"MgII","bin":"120-150 kpc","k":"m","x":-8,"y":1,"c":1},{"ion":"MgII","bin":"120-150 kpc","k":"m","x":-7,"y":0.9998,"c":1},{"ion":"MgII","bin":"120-150 kpc","k":"m","x":-6.6,"y":0.9994,"c":1},{"ion":"MgII","bin":"120-150 kpc","k":"m","x":-6,"y":0.9983,"c":1},{"ion":"MgII","bin":"120-150 kpc","k":"m","x":-5.5,"y":0.9963,"c":1},{"ion":"MgII","bin":"120-150 kpc","k":"m","x":-5,"y":0.9929,"c":1},{"ion":"MgII","bin":"120-150 kpc","k":"m","x":-4.5,"y":0.9889,"c":1},{"ion":"MgII","bin":"120-150 kpc","k":"m","x":-4,"y":0.9858,"c":1},{"ion":"MgII","bin":"120-150 kpc","k":"m","x":-3.6,"y":0.9846,"c":1},{"ion":"MgII","bin":"120-150 kpc","k":"m","x":-3.2,"y":0.9858,"c":1},{"ion":"MgII","bin":"120-150 kpc","k":"m","x":-2.7,"y":0.9889,"c":1},{"ion":"MgII","bin":"120-150 kpc","k":"m","x":-2.2,"y":0.9929,"c":1},{"ion":"MgII","bin":"120-150 kpc","k":"m","x":-1.7,"y":0.995,"c":1},{"ion":"MgII","bin":"120-150 kpc","k":"m","x":-1.2,"y":0.9958,"c":1},{"ion":"MgII","bin":"120-150 kpc","k":"m","x":-0.6,"y":0.9957,"c":1},{"ion":"MgII","bin":"120-150 kpc","k":"m","x":0.4,"y":0.9948,"c":1},{"ion":"MgII","bin":"120-150 kpc","k":"m","x":1.4,"y":0.9935,"c":1},{"ion":"MgII","bin":"120-150 kpc","k":"m","x":2.4,"y":0.9918,"c":1},{"ion":"MgII","bin":"120-150 kpc","k":"m","x":3.6,"y":0.9904,"c":1},{"ion":"MgII","bin":"120-150 kpc","k":"m","x":4.6,"y":0.9912,"c":1},{"ion":"MgII","bin":"120-150 kpc","k":"m","x":5.6,"y":0.9935,"c":1},{"ion":"MgII","bin":"120-150 kpc","k":"m","x":6.6,"y":0.9962,"c":1},{"ion":"MgII","bin":"120-150 kpc","k":"m","x":7.6,"y":0.9982,"c":1},{"ion":"MgII","bin":"120-150 kpc","k":"m","x":8.6,"y":0.9994,"c":1},{"ion":"MgII","bin":"120-150 kpc","k":"m","x":9.6,"y":0.9999,"c":1},{"ion":"MgII","bin":"120-150 kpc","k":"m","x":10.6,"y":1,"c":1},{"ion":"MgII","bin":"120-150 kpc","k":"m","x":30,"y":1,"c":1},
  {"ion":"MgII","bin":"120-150 kpc","k":"d","x":-30,"y":1.002},{"ion":"MgII","bin":"120-150 kpc","k":"d","x":-28,"y":0.997},{"ion":"MgII","bin":"120-150 kpc","k":"d","x":-26,"y":1.004},{"ion":"MgII","bin":"120-150 kpc","k":"d","x":-24,"y":0.999},{"ion":"MgII","bin":"120-150 kpc","k":"d","x":-22,"y":0.995},{"ion":"MgII","bin":"120-150 kpc","k":"d","x":-20,"y":1.003},{"ion":"MgII","bin":"120-150 kpc","k":"d","x":-18,"y":0.998},{"ion":"MgII","bin":"120-150 kpc","k":"d","x":-16,"y":1.004},{"ion":"MgII","bin":"120-150 kpc","k":"d","x":-14,"y":0.996},{"ion":"MgII","bin":"120-150 kpc","k":"d","x":-12,"y":1.002},{"ion":"MgII","bin":"120-150 kpc","k":"d","x":-10,"y":0.998},{"ion":"MgII","bin":"120-150 kpc","k":"d","x":-8,"y":1.003},{"ion":"MgII","bin":"120-150 kpc","k":"d","x":-6,"y":0.999},{"ion":"MgII","bin":"120-150 kpc","k":"d","x":-4,"y":0.986},{"ion":"MgII","bin":"120-150 kpc","k":"d","x":-2,"y":0.996},{"ion":"MgII","bin":"120-150 kpc","k":"d","x":0,"y":0.995},{"ion":"MgII","bin":"120-150 kpc","k":"d","x":2,"y":0.996},{"ion":"MgII","bin":"120-150 kpc","k":"d","x":4,"y":0.988},{"ion":"MgII","bin":"120-150 kpc","k":"d","x":6,"y":0.997},{"ion":"MgII","bin":"120-150 kpc","k":"d","x":8,"y":1.004},{"ion":"MgII","bin":"120-150 kpc","k":"d","x":10,"y":0.997},{"ion":"MgII","bin":"120-150 kpc","k":"d","x":12,"y":1.003},{"ion":"MgII","bin":"120-150 kpc","k":"d","x":14,"y":0.994},{"ion":"MgII","bin":"120-150 kpc","k":"d","x":16,"y":1.002},{"ion":"MgII","bin":"120-150 kpc","k":"d","x":18,"y":0.998},{"ion":"MgII","bin":"120-150 kpc","k":"d","x":20,"y":1.004},{"ion":"MgII","bin":"120-150 kpc","k":"d","x":22,"y":0.995},{"ion":"MgII","bin":"120-150 kpc","k":"d","x":24,"y":1.002},{"ion":"MgII","bin":"120-150 kpc","k":"d","x":26,"y":0.997},{"ion":"MgII","bin":"120-150 kpc","k":"d","x":28,"y":1.003},{"ion":"MgII","bin":"120-150 kpc","k":"d","x":30,"y":0.999}
 ]
},
"spacing":13,
"vconcat":[
 {
  "width":782,"height":453,
  "layer":[
   {
    "encoding":{
     "x":{"field":"D","type":"quantitative","scale":{"type":"log","domain":[10,217.7],"nice":false},
      "axis":{"orient":"bottom","title":"D [kpc]","titleFontSize":20,"titleBaseline":"alphabetic","titleY":32,"values":[20,30,40,50,60,70,80,90,100,200],
       "labelExpr":"(datum.value==20||datum.value==50||datum.value==100||datum.value==200) ? datum.label : ''",
       "labelFontSize":17,"labelPadding":6,
       "tickSize":{"condition":{"test":"datum.value==20||datum.value==50||datum.value==100||datum.value==200","value":-9},"value":-5},
       "tickWidth":1.4,"grid":true,"gridColor":"#dcdcdc","gridWidth":1.2,
       "gridOpacity":{"condition":{"test":"datum.value==20||datum.value==50||datum.value==100||datum.value==200","value":1},"value":0}}},
     "y":{"field":"W","type":"quantitative","scale":{"type":"log","domain":[0.054,8.6],"nice":false},
      "axis":{"orient":"left","title":"Wᵢ [Å]","titleFontSize":20,"titlePadding":6,"values":[0.06,0.07,0.08,0.09,0.1,0.2,0.3,0.4,0.5,0.6,0.7,0.8,0.9,1,2,3,4,5,6,7,8],
       "labelExpr":"datum.value==1 ? '10⁰' : (datum.value==0.1 ? '10⁻¹' : '')",
       "labelFontSize":17,"labelPadding":4,
       "tickSize":{"condition":{"test":"datum.value==1||datum.value==0.1","value":-10},"value":-6},
       "tickWidth":1.4,"grid":true,"gridColor":"#999999","gridDash":[1,2],"gridWidth":1,
       "gridOpacity":{"condition":{"test":"datum.value==1||datum.value==0.1","value":1},"value":0}}}
    },
    "layer":[
     {"data":{"name":"models"},"mark":{"type":"line","clip":true,"strokeWidth":1.5,"opacity":0.6},
      "encoding":{"color":{"field":"ion","type":"nominal","scale":{"domain":["CIV","MgII"],"range":["#DA70D6","#4A82F0"]},"legend":null},
       "strokeDash":{"field":"model","type":"nominal","scale":{"domain":["Li+2021","Nelson+2025"],"range":[[9,5],[4,3]]},
        "legend":{"orient":"none","legendX":437,"legendY":49,"title":null,"symbolType":"stroke","symbolSize":800,"symbolStrokeColor":"#aaaaaa","symbolStrokeWidth":1.8,"labelOffset":13,"labelFontSize":16,"rowPadding":-12}}}},
     {"data":{"name":"lit"},"transform":[{"filter":"datum.src != 'Lan+2025 CIV'"}],"mark":{"type":"rule","strokeWidth":1.5,"opacity":0.45,"color":"#4A82F0"},
      "encoding":{"y":{"field":"lo","type":"quantitative"},"y2":{"field":"hi"}}},
     {"data":{"name":"lit"},"transform":[{"filter":"datum.src != 'Lan+2025 CIV'"}],"mark":{"type":"tick","orient":"horizontal","size":20,"thickness":1.5,"opacity":0.45,"color":"#4A82F0"},
      "encoding":{"y":{"field":"lo","type":"quantitative"}}},
     {"data":{"name":"lit"},"transform":[{"filter":"datum.src != 'Lan+2025 CIV'"}],"mark":{"type":"tick","orient":"horizontal","size":20,"thickness":1.5,"opacity":0.45,"color":"#4A82F0"},
      "encoding":{"y":{"field":"hi","type":"quantitative"}}},
     {"data":{"name":"lit"},"transform":[{"filter":"datum.src == 'Lan+2025 CIV'"}],"mark":{"type":"rule","strokeWidth":1.5,"opacity":0.45,"color":"#DA70D6"},
      "encoding":{"y":{"field":"lo","type":"quantitative"},"y2":{"field":"hi"}}},
     {"data":{"name":"lit"},"transform":[{"filter":"datum.src == 'Lan+2025 CIV'"}],"mark":{"type":"tick","orient":"horizontal","size":20,"thickness":1.5,"opacity":0.45,"color":"#DA70D6"},
      "encoding":{"y":{"field":"lo","type":"quantitative"}}},
     {"data":{"name":"lit"},"transform":[{"filter":"datum.src == 'Lan+2025 CIV'"}],"mark":{"type":"tick","orient":"horizontal","size":20,"thickness":1.5,"opacity":0.45,"color":"#DA70D6"},
      "encoding":{"y":{"field":"hi","type":"quantitative"}}},
     {"data":{"name":"lit"},"mark":{"type":"point","filled":false,"size":110,"strokeWidth":1.6,"opacity":0.45},
      "encoding":{
       "shape":{"field":"src","type":"nominal","scale":{"domain":["Lan+2018 MgII","Lan+2025 MgII","Lan+2025 CIV","Chen+2025 MgII"],"range":["square","M0,-1L0.235,-0.324L0.951,-0.309L0.38,0.124L0.588,0.809L0,0.4L-0.588,0.809L-0.38,0.124L-0.951,-0.309L-0.235,-0.324Z","M-0.8,-0.8L0.8,0.8M-0.8,0.8L0.8,-0.8","diamond"]},
        "legend":{"orient":"none","legendX":628,"legendY":12,"title":null,"labelOffset":22,"labelFontSize":16,"symbolOpacity":0.5,"symbolStrokeWidth":1.6,"symbolSize":120,"rowPadding":4}},
       "stroke":{"field":"src","type":"nominal","scale":{"domain":["Lan+2018 MgII","Lan+2025 MgII","Lan+2025 CIV","Chen+2025 MgII"],"range":["#4A82F0","#4A82F0","#DA70D6","#4A82F0"]},
        "legend":{"orient":"none","legendX":628,"legendY":12,"title":null,"labelOffset":22,"labelFontSize":16,"symbolOpacity":0.5,"symbolStrokeWidth":1.6,"symbolSize":120,"rowPadding":4}}}},
     {"data":{"name":"fits"},"mark":{"type":"line","strokeWidth":3.5,"strokeDash":[11,6]},
      "encoding":{"color":{"field":"ion","type":"nominal","legend":null}}},
     {"data":{"name":"main"},"mark":{"type":"rule","color":"#111111","strokeWidth":2},
      "encoding":{"y":{"field":"lo","type":"quantitative"},"y2":{"field":"hi"}}},
     {"data":{"name":"main"},"mark":{"type":"tick","orient":"horizontal","size":26,"thickness":2,"color":"#111111"},
      "encoding":{"y":{"field":"lo","type":"quantitative"}}},
     {"data":{"name":"main"},"mark":{"type":"tick","orient":"horizontal","size":26,"thickness":2,"color":"#111111"},
      "encoding":{"y":{"field":"hi","type":"quantitative"}}},
     {"data":{"name":"main"},"mark":{"type":"point","shape":"square","filled":true,"size":230,"stroke":"#111111","strokeWidth":2,"opacity":1},
      "encoding":{"fill":{"field":"lab","type":"nominal","scale":{"domain":["CIV λλ1548,1550","MgII λλ2796,2803"],"range":["#DA70D6","#4A82F0"]},
       "legend":{"orient":"none","legendX":436,"legendY":10,"title":null,"symbolType":"square","symbolSize":200,"symbolStrokeColor":"#111111","symbolStrokeWidth":2,"labelOffset":28,"labelFontSize":16,"rowPadding":0}}}},
     {"data":{"name":"notes"},"transform":[{"filter":"datum.kind=='slope'"}],"mark":{"type":"text","align":"left","baseline":"middle","fontSize":14.5},
      "encoding":{"text":{"field":"t"},"color":{"field":"ion","type":"nominal","legend":null}}},
     {"data":{"name":"notes"},"transform":[{"filter":"datum.kind=='label'"}],"mark":{"type":"text","align":"left","baseline":"middle","fontSize":21,"fontWeight":"bold","color":"#111111"},
      "encoding":{"text":{"field":"t"}}}
    ]
   },
   {
    "data":{"name":"fits"},
    "mark":{"type":"line","opacity":0},
    "encoding":{
     "x":{"field":"D","type":"quantitative","scale":{"type":"log","domain":[10,217.7],"nice":false},
      "axis":{"orient":"top","title":null,"labels":false,"grid":false,"values":[20,30,40,50,60,70,80,90,100,200],
       "tickSize":{"condition":{"test":"datum.value==20||datum.value==50||datum.value==100||datum.value==200","value":-9},"value":-5},"tickWidth":1.4}},
     "y":{"field":"W","type":"quantitative","scale":{"type":"log","domain":[0.054,8.6],"nice":false},
      "axis":{"orient":"right","title":null,"labels":false,"grid":false,"values":[0.06,0.07,0.08,0.09,0.1,0.2,0.3,0.4,0.5,0.6,0.7,0.8,0.9,1,2,3,4,5,6,7,8],
       "tickSize":{"condition":{"test":"datum.value==1||datum.value==0.1","value":-10},"value":-6},"tickWidth":1.4}}
    }
   }
  ],
  "resolve":{"axis":{"x":"independent","y":"independent"}}
 },
 {
  "data":{"name":"spec"},
  "facet":{
   "row":{"field":"ion","type":"nominal","sort":["CIV","MgII"],"title":null,
    "header":{"labelExpr":"datum.value + ' Flux'","labelAngle":-90,"labelOrient":"left","labelFontSize":13,"labelPadding":4,"labelLimit":0}},
   "column":{"field":"bin","type":"nominal","sort":["10-20 kpc","20-35 kpc","35-60 kpc","60-90 kpc","90-120 kpc","120-150 kpc"],"title":null,
    "header":{"labelExpr":"'Δ λ [Å]'","labelOrient":"bottom","labelFontSize":12.5,"labelPadding":10}}
  },
  "spacing":{"row":16,"column":5},
  "bounds":"flush",
  "resolve":{"scale":{"x":"independent","y":"independent"},"axis":{"x":"independent","y":"independent"}},
  "spec":{
   "width":126,"height":53,
   "layer":[
    {
     "encoding":{
      "x":{"field":"x","type":"quantitative","scale":{"nice":false,"zero":false},
       "axis":{"orient":"bottom","title":null,"values":[-20,0,20,40],"labelFontSize":11,"labelPadding":2,"tickSize":-4,"tickWidth":1}},
      "y":{"field":"y","type":"quantitative","scale":{"nice":false,"zero":false},
       "axis":{"orient":"left","title":null,"labels":false,"tickCount":12,"tickSize":-3,"tickWidth":1}}
     },
     "layer":[
      {"transform":[{"filter":"datum.k=='dom'"}],"mark":{"type":"rule","opacity":0},"encoding":{"y2":{"field":"y2"}}},
      {"transform":[{"filter":"datum.k=='m'"}],"mark":{"type":"area","opacity":0.22},"encoding":{"y2":{"field":"c"},"color":{"field":"ion","type":"nominal","legend":null}}},
      {"transform":[{"filter":"datum.k=='ctr'"}],"mark":{"type":"rule","strokeDash":[3,2],"strokeWidth":1,"opacity":0.6},"encoding":{"y2":{"field":"y2"},"color":{"field":"ion","type":"nominal","legend":null}}},
      {"transform":[{"filter":"datum.k=='d'"}],"mark":{"type":"line","color":"#555555","strokeWidth":1.1},"encoding":{}},
      {"transform":[{"filter":"datum.k=='m'"}],"mark":{"type":"line","strokeWidth":2.6},"encoding":{"color":{"field":"ion","type":"nominal","legend":null}}},
      {"transform":[{"filter":"datum.k=='lab'"}],"mark":{"type":"text","align":"left","baseline":"middle","fontSize":13,"fontWeight":"bold","color":"#111111"},"encoding":{"text":{"field":"t"}}},
      {"transform":[{"filter":"datum.k=='tl'"}],"mark":{"type":"text","align":"right","baseline":"middle","fontSize":11,"color":"#222222"},"encoding":{"text":{"field":"t"}}}
     ]
    },
    {
     "transform":[{"filter":"datum.k=='dom'"}],
     "mark":{"type":"rule","opacity":0},
     "encoding":{
      "x":{"field":"x","type":"quantitative","scale":{"nice":false,"zero":false},
       "axis":{"orient":"top","title":null,"labels":false,"tickCount":14,"tickSize":-3,"tickWidth":1}},
      "y":{"field":"y","type":"quantitative","scale":{"nice":false,"zero":false},
       "axis":{"orient":"right","title":null,"labels":false,"tickCount":12,"tickSize":-3,"tickWidth":1}},
      "y2":{"field":"y2"}
     }
    }
   ],
   "resolve":{"axis":{"x":"independent","y":"independent"}}
  }
 }
]
}
